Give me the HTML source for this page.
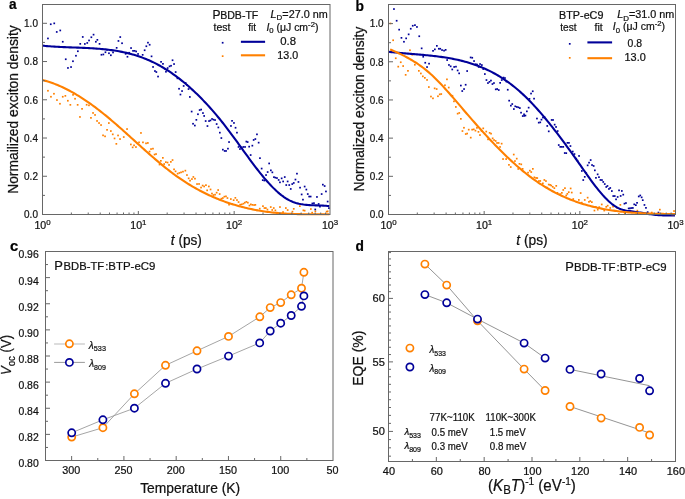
<!DOCTYPE html>
<html><head><meta charset="utf-8"><style>
html,body{margin:0;padding:0;background:#fff;}
svg{display:block;will-change:transform;}
text{font-family:"Liberation Sans", sans-serif;}
</style></head><body>
<svg width="685" height="499" viewBox="0 0 685 499" font-family='"Liberation Sans", sans-serif'><g fill="#ff8000"><rect x="47.1" y="89.9" width="1.7" height="1.7"/><rect x="50.1" y="95.9" width="1.7" height="1.7"/><rect x="53.1" y="92.9" width="1.7" height="1.7"/><rect x="56.1" y="99.2" width="1.7" height="1.7"/><rect x="59.1" y="102.9" width="1.7" height="1.7"/><rect x="61.9" y="95.9" width="1.7" height="1.7"/><rect x="64.5" y="95.0" width="1.7" height="1.7"/><rect x="67.0" y="99.9" width="1.7" height="1.7"/><rect x="69.5" y="104.0" width="1.7" height="1.7"/><rect x="72.2" y="94.0" width="1.7" height="1.7"/><rect x="74.2" y="97.9" width="1.7" height="1.7"/><rect x="76.8" y="104.0" width="1.7" height="1.7"/><rect x="79.1" y="116.1" width="1.7" height="1.7"/><rect x="81.2" y="108.0" width="1.7" height="1.7"/><rect x="85.8" y="103.9" width="1.7" height="1.7"/><rect x="88.1" y="104.5" width="1.7" height="1.7"/><rect x="90.1" y="117.0" width="1.7" height="1.7"/><rect x="92.2" y="112.1" width="1.7" height="1.7"/><rect x="94.2" y="114.1" width="1.7" height="1.7"/><rect x="96.2" y="120.1" width="1.7" height="1.7"/><rect x="98.2" y="122.2" width="1.7" height="1.7"/><rect x="100.2" y="124.2" width="1.7" height="1.7"/><rect x="102.2" y="134.5" width="1.7" height="1.7"/><rect x="104.2" y="135.5" width="1.7" height="1.7"/><rect x="106.2" y="129.0" width="1.7" height="1.7"/><rect x="108.0" y="122.2" width="1.7" height="1.7"/><rect x="110.0" y="130.2" width="1.7" height="1.7"/><rect x="111.9" y="133.5" width="1.7" height="1.7"/><rect x="113.7" y="137.6" width="1.7" height="1.7"/><rect x="115.5" y="143.0" width="1.7" height="1.7"/><rect x="117.2" y="134.6" width="1.7" height="1.7"/><rect x="119.2" y="138.2" width="1.7" height="1.7"/><rect x="122.9" y="136.2" width="1.7" height="1.7"/><rect x="126.2" y="128.2" width="1.7" height="1.7"/><rect x="130.0" y="143.6" width="1.7" height="1.7"/><rect x="131.8" y="146.5" width="1.7" height="1.7"/><rect x="133.2" y="144.5" width="1.7" height="1.7"/><rect x="135.1" y="146.2" width="1.7" height="1.7"/><rect x="138.2" y="141.5" width="1.7" height="1.7"/><rect x="140.1" y="132.1" width="1.7" height="1.7"/><rect x="142.1" y="141.5" width="1.7" height="1.7"/><rect x="145.2" y="142.5" width="1.7" height="1.7"/><rect x="147.0" y="142.1" width="1.7" height="1.7"/><rect x="150.2" y="148.2" width="1.7" height="1.7"/><rect x="152.1" y="147.8" width="1.7" height="1.7"/><rect x="148.7" y="150.7" width="1.7" height="1.7"/><rect x="153.7" y="153.7" width="1.7" height="1.7"/><rect x="155.2" y="153.2" width="1.7" height="1.7"/><rect x="158.7" y="163.7" width="1.7" height="1.7"/><rect x="160.0" y="160.0" width="1.7" height="1.7"/><rect x="162.0" y="157.0" width="1.7" height="1.7"/><rect x="163.3" y="163.2" width="1.7" height="1.7"/><rect x="165.0" y="161.3" width="1.7" height="1.7"/><rect x="166.7" y="161.7" width="1.7" height="1.7"/><rect x="168.2" y="164.1" width="1.7" height="1.7"/><rect x="170.0" y="161.0" width="1.7" height="1.7"/><rect x="171.7" y="159.2" width="1.7" height="1.7"/><rect x="173.2" y="168.5" width="1.7" height="1.7"/><rect x="174.7" y="170.5" width="1.7" height="1.7"/><rect x="176.8" y="172.8" width="1.7" height="1.7"/><rect x="178.5" y="172.1" width="1.7" height="1.7"/><rect x="180.2" y="171.5" width="1.7" height="1.7"/><rect x="182.1" y="170.8" width="1.7" height="1.7"/><rect x="184.5" y="169.8" width="1.7" height="1.7"/><rect x="186.1" y="174.2" width="1.7" height="1.7"/><rect x="187.8" y="177.5" width="1.7" height="1.7"/><rect x="189.2" y="179.8" width="1.7" height="1.7"/><rect x="191.1" y="178.2" width="1.7" height="1.7"/><rect x="192.5" y="176.1" width="1.7" height="1.7"/><rect x="194.1" y="177.8" width="1.7" height="1.7"/><rect x="196.2" y="183.2" width="1.7" height="1.7"/><rect x="198.2" y="183.1" width="1.7" height="1.7"/><rect x="200.2" y="186.7" width="1.7" height="1.7"/><rect x="201.8" y="184.7" width="1.7" height="1.7"/><rect x="203.3" y="185.6" width="1.7" height="1.7"/><rect x="205.1" y="184.3" width="1.7" height="1.7"/><rect x="206.3" y="189.5" width="1.7" height="1.7"/><rect x="208.0" y="185.6" width="1.7" height="1.7"/><rect x="209.7" y="188.6" width="1.7" height="1.7"/><rect x="211.1" y="192.7" width="1.7" height="1.7"/><rect x="212.6" y="194.2" width="1.7" height="1.7"/><rect x="214.2" y="193.8" width="1.7" height="1.7"/><rect x="215.8" y="191.8" width="1.7" height="1.7"/><rect x="217.3" y="189.2" width="1.7" height="1.7"/><rect x="218.8" y="193.2" width="1.7" height="1.7"/><rect x="220.5" y="197.8" width="1.7" height="1.7"/><rect x="222.0" y="197.2" width="1.7" height="1.7"/><rect x="223.5" y="195.8" width="1.7" height="1.7"/><rect x="225.1" y="195.5" width="1.7" height="1.7"/><rect x="226.6" y="197.2" width="1.7" height="1.7"/><rect x="228.2" y="203.8" width="1.7" height="1.7"/><rect x="230.0" y="198.2" width="1.7" height="1.7"/><rect x="231.5" y="203.2" width="1.7" height="1.7"/><rect x="232.8" y="199.3" width="1.7" height="1.7"/><rect x="234.5" y="197.0" width="1.7" height="1.7"/><rect x="236.1" y="199.2" width="1.7" height="1.7"/><rect x="237.7" y="201.2" width="1.7" height="1.7"/><rect x="239.3" y="203.8" width="1.7" height="1.7"/><rect x="241.0" y="203.5" width="1.7" height="1.7"/><rect x="242.6" y="202.8" width="1.7" height="1.7"/><rect x="244.0" y="201.8" width="1.7" height="1.7"/><rect x="245.5" y="201.0" width="1.7" height="1.7"/><rect x="247.0" y="201.8" width="1.7" height="1.7"/><rect x="248.6" y="204.7" width="1.7" height="1.7"/><rect x="250.0" y="203.5" width="1.7" height="1.7"/><rect x="251.5" y="204.0" width="1.7" height="1.7"/><rect x="253.2" y="204.2" width="1.7" height="1.7"/><rect x="254.5" y="204.0" width="1.7" height="1.7"/><rect x="256.1" y="209.5" width="1.7" height="1.7"/><rect x="258.9" y="207.8" width="1.7" height="1.7"/><rect x="262.1" y="205.3" width="1.7" height="1.7"/><rect x="263.6" y="207.2" width="1.7" height="1.7"/><rect x="265.0" y="207.2" width="1.7" height="1.7"/><rect x="266.6" y="208.7" width="1.7" height="1.7"/><rect x="268.2" y="211.2" width="1.7" height="1.7"/><rect x="269.9" y="206.2" width="1.7" height="1.7"/><rect x="271.4" y="209.1" width="1.7" height="1.7"/><rect x="272.9" y="207.2" width="1.7" height="1.7"/><rect x="274.5" y="209.5" width="1.7" height="1.7"/><rect x="279.1" y="206.2" width="1.7" height="1.7"/><rect x="282.2" y="211.2" width="1.7" height="1.7"/><rect x="285.0" y="207.2" width="1.7" height="1.7"/><rect x="286.8" y="209.2" width="1.7" height="1.7"/><rect x="291.6" y="210.8" width="1.7" height="1.7"/><rect x="292.9" y="208.0" width="1.7" height="1.7"/><rect x="299.0" y="205.3" width="1.7" height="1.7"/><rect x="302.5" y="209.5" width="1.7" height="1.7"/><rect x="303.8" y="209.8" width="1.7" height="1.7"/><rect x="310.0" y="208.2" width="1.7" height="1.7"/><rect x="314.5" y="210.5" width="1.7" height="1.7"/><rect x="311.3" y="211.8" width="1.7" height="1.7"/><rect x="325.8" y="210.8" width="1.7" height="1.7"/><rect x="326.8" y="210.5" width="1.7" height="1.7"/></g>
<g fill="#ff8000"><rect x="389.6" y="22.6" width="1.7" height="1.7"/><rect x="392.3" y="39.4" width="1.7" height="1.7"/><rect x="409.1" y="49.4" width="1.7" height="1.7"/><rect x="446.1" y="78.5" width="1.7" height="1.7"/><rect x="394.9" y="57.4" width="1.7" height="1.7"/><rect x="397.4" y="65.8" width="1.7" height="1.7"/><rect x="399.9" y="61.4" width="1.7" height="1.7"/><rect x="402.3" y="65.2" width="1.7" height="1.7"/><rect x="404.8" y="74.0" width="1.7" height="1.7"/><rect x="407.1" y="70.0" width="1.7" height="1.7"/><rect x="411.4" y="53.9" width="1.7" height="1.7"/><rect x="414.0" y="63.9" width="1.7" height="1.7"/><rect x="418.0" y="70.0" width="1.7" height="1.7"/><rect x="420.0" y="72.6" width="1.7" height="1.7"/><rect x="422.0" y="75.5" width="1.7" height="1.7"/><rect x="424.0" y="77.0" width="1.7" height="1.7"/><rect x="426.2" y="79.1" width="1.7" height="1.7"/><rect x="428.0" y="86.2" width="1.7" height="1.7"/><rect x="433.8" y="87.5" width="1.7" height="1.7"/><rect x="435.8" y="88.2" width="1.7" height="1.7"/><rect x="430.1" y="95.7" width="1.7" height="1.7"/><rect x="432.1" y="97.5" width="1.7" height="1.7"/><rect x="437.1" y="95.4" width="1.7" height="1.7"/><rect x="438.9" y="93.5" width="1.7" height="1.7"/><rect x="440.4" y="93.2" width="1.7" height="1.7"/><rect x="444.1" y="84.4" width="1.7" height="1.7"/><rect x="447.9" y="86.7" width="1.7" height="1.7"/><rect x="451.6" y="94.9" width="1.7" height="1.7"/><rect x="453.1" y="100.5" width="1.7" height="1.7"/><rect x="455.0" y="106.1" width="1.7" height="1.7"/><rect x="456.8" y="112.8" width="1.7" height="1.7"/><rect x="458.4" y="112.1" width="1.7" height="1.7"/><rect x="460.0" y="118.0" width="1.7" height="1.7"/><rect x="461.6" y="130.2" width="1.7" height="1.7"/><rect x="463.1" y="126.9" width="1.7" height="1.7"/><rect x="464.9" y="133.2" width="1.7" height="1.7"/><rect x="466.3" y="132.7" width="1.7" height="1.7"/><rect x="467.9" y="128.8" width="1.7" height="1.7"/><rect x="469.9" y="136.8" width="1.7" height="1.7"/><rect x="471.3" y="128.8" width="1.7" height="1.7"/><rect x="472.9" y="128.5" width="1.7" height="1.7"/><rect x="474.6" y="129.8" width="1.7" height="1.7"/><rect x="476.1" y="127.0" width="1.7" height="1.7"/><rect x="477.6" y="131.0" width="1.7" height="1.7"/><rect x="479.1" y="134.2" width="1.7" height="1.7"/><rect x="480.8" y="130.2" width="1.7" height="1.7"/><rect x="482.4" y="127.5" width="1.7" height="1.7"/><rect x="485.4" y="130.7" width="1.7" height="1.7"/><rect x="487.2" y="138.5" width="1.7" height="1.7"/><rect x="488.8" y="132.0" width="1.7" height="1.7"/><rect x="490.2" y="132.8" width="1.7" height="1.7"/><rect x="491.8" y="137.5" width="1.7" height="1.7"/><rect x="493.2" y="139.2" width="1.7" height="1.7"/><rect x="494.8" y="140.1" width="1.7" height="1.7"/><rect x="496.2" y="142.1" width="1.7" height="1.7"/><rect x="497.8" y="142.1" width="1.7" height="1.7"/><rect x="499.2" y="146.1" width="1.7" height="1.7"/><rect x="500.8" y="142.8" width="1.7" height="1.7"/><rect x="502.2" y="158.2" width="1.7" height="1.7"/><rect x="505.3" y="158.2" width="1.7" height="1.7"/><rect x="508.1" y="164.0" width="1.7" height="1.7"/><rect x="509.9" y="166.2" width="1.7" height="1.7"/><rect x="512.9" y="153.7" width="1.7" height="1.7"/><rect x="514.1" y="160.2" width="1.7" height="1.7"/><rect x="515.9" y="157.8" width="1.7" height="1.7"/><rect x="517.4" y="168.1" width="1.7" height="1.7"/><rect x="518.6" y="163.0" width="1.7" height="1.7"/><rect x="520.4" y="163.5" width="1.7" height="1.7"/><rect x="521.8" y="168.0" width="1.7" height="1.7"/><rect x="527.2" y="171.8" width="1.7" height="1.7"/><rect x="529.0" y="169.8" width="1.7" height="1.7"/><rect x="530.4" y="171.2" width="1.7" height="1.7"/><rect x="532.0" y="168.0" width="1.7" height="1.7"/><rect x="533.5" y="176.5" width="1.7" height="1.7"/><rect x="535.2" y="177.1" width="1.7" height="1.7"/><rect x="536.4" y="177.2" width="1.7" height="1.7"/><rect x="538.0" y="180.2" width="1.7" height="1.7"/><rect x="539.4" y="180.1" width="1.7" height="1.7"/><rect x="542.0" y="182.5" width="1.7" height="1.7"/><rect x="543.5" y="179.1" width="1.7" height="1.7"/><rect x="545.1" y="180.2" width="1.7" height="1.7"/><rect x="546.4" y="186.8" width="1.7" height="1.7"/><rect x="547.9" y="183.7" width="1.7" height="1.7"/><rect x="549.2" y="184.0" width="1.7" height="1.7"/><rect x="550.4" y="184.7" width="1.7" height="1.7"/><rect x="551.9" y="186.0" width="1.7" height="1.7"/><rect x="553.5" y="187.3" width="1.7" height="1.7"/><rect x="555.4" y="185.0" width="1.7" height="1.7"/><rect x="556.6" y="192.0" width="1.7" height="1.7"/><rect x="559.4" y="193.3" width="1.7" height="1.7"/><rect x="561.0" y="192.0" width="1.7" height="1.7"/><rect x="562.4" y="189.1" width="1.7" height="1.7"/><rect x="564.1" y="187.3" width="1.7" height="1.7"/><rect x="565.4" y="194.6" width="1.7" height="1.7"/><rect x="566.5" y="193.0" width="1.7" height="1.7"/><rect x="567.9" y="191.3" width="1.7" height="1.7"/><rect x="569.8" y="187.6" width="1.7" height="1.7"/><rect x="570.9" y="191.7" width="1.7" height="1.7"/><rect x="572.4" y="198.2" width="1.7" height="1.7"/><rect x="578.0" y="199.1" width="1.7" height="1.7"/><rect x="579.8" y="192.2" width="1.7" height="1.7"/><rect x="580.9" y="201.8" width="1.7" height="1.7"/><rect x="583.9" y="199.1" width="1.7" height="1.7"/><rect x="586.8" y="196.8" width="1.7" height="1.7"/><rect x="588.1" y="201.0" width="1.7" height="1.7"/><rect x="589.4" y="200.2" width="1.7" height="1.7"/><rect x="591.0" y="201.3" width="1.7" height="1.7"/><rect x="593.6" y="209.7" width="1.7" height="1.7"/><rect x="594.9" y="206.0" width="1.7" height="1.7"/><rect x="596.9" y="208.8" width="1.7" height="1.7"/><rect x="598.4" y="206.3" width="1.7" height="1.7"/><rect x="600.9" y="203.6" width="1.7" height="1.7"/><rect x="603.4" y="209.7" width="1.7" height="1.7"/><rect x="605.4" y="206.0" width="1.7" height="1.7"/><rect x="606.8" y="204.8" width="1.7" height="1.7"/><rect x="609.4" y="207.1" width="1.7" height="1.7"/><rect x="612.2" y="205.8" width="1.7" height="1.7"/><rect x="616.2" y="207.2" width="1.7" height="1.7"/><rect x="619.5" y="204.0" width="1.7" height="1.7"/><rect x="623.9" y="212.6" width="1.7" height="1.7"/><rect x="618.0" y="213.2" width="1.7" height="1.7"/><rect x="636.5" y="209.8" width="1.7" height="1.7"/><rect x="659.0" y="208.8" width="1.7" height="1.7"/><rect x="673.2" y="210.2" width="1.7" height="1.7"/><rect x="650.9" y="211.7" width="1.7" height="1.7"/></g>
<g fill="#000099"><rect x="47.1" y="37.6" width="1.7" height="1.7"/><rect x="49.9" y="23.4" width="1.7" height="1.7"/><rect x="53.4" y="22.5" width="1.7" height="1.7"/><rect x="55.9" y="31.1" width="1.7" height="1.7"/><rect x="59.4" y="29.6" width="1.7" height="1.7"/><rect x="61.9" y="40.9" width="1.7" height="1.7"/><rect x="64.9" y="58.4" width="1.7" height="1.7"/><rect x="67.1" y="67.1" width="1.7" height="1.7"/><rect x="70.2" y="66.2" width="1.7" height="1.7"/><rect x="72.1" y="60.4" width="1.7" height="1.7"/><rect x="75.1" y="54.9" width="1.7" height="1.7"/><rect x="77.0" y="50.4" width="1.7" height="1.7"/><rect x="79.4" y="43.0" width="1.7" height="1.7"/><rect x="81.9" y="36.1" width="1.7" height="1.7"/><rect x="84.0" y="43.1" width="1.7" height="1.7"/><rect x="86.4" y="42.1" width="1.7" height="1.7"/><rect x="88.2" y="39.6" width="1.7" height="1.7"/><rect x="90.5" y="36.4" width="1.7" height="1.7"/><rect x="92.7" y="33.8" width="1.7" height="1.7"/><rect x="95.0" y="40.9" width="1.7" height="1.7"/><rect x="96.5" y="39.0" width="1.7" height="1.7"/><rect x="98.7" y="43.0" width="1.7" height="1.7"/><rect x="100.6" y="53.9" width="1.7" height="1.7"/><rect x="102.5" y="53.6" width="1.7" height="1.7"/><rect x="104.6" y="51.4" width="1.7" height="1.7"/><rect x="106.2" y="49.0" width="1.7" height="1.7"/><rect x="108.1" y="52.4" width="1.7" height="1.7"/><rect x="110.0" y="54.4" width="1.7" height="1.7"/><rect x="112.2" y="51.6" width="1.7" height="1.7"/><rect x="115.8" y="47.0" width="1.7" height="1.7"/><rect x="117.6" y="40.1" width="1.7" height="1.7"/><rect x="119.4" y="36.2" width="1.7" height="1.7"/><rect x="121.2" y="42.4" width="1.7" height="1.7"/><rect x="124.8" y="53.0" width="1.7" height="1.7"/><rect x="126.6" y="55.9" width="1.7" height="1.7"/><rect x="128.3" y="51.9" width="1.7" height="1.7"/><rect x="130.2" y="47.2" width="1.7" height="1.7"/><rect x="132.2" y="50.0" width="1.7" height="1.7"/><rect x="133.8" y="50.0" width="1.7" height="1.7"/><rect x="135.3" y="50.6" width="1.7" height="1.7"/><rect x="137.2" y="53.1" width="1.7" height="1.7"/><rect x="141.8" y="54.0" width="1.7" height="1.7"/><rect x="143.8" y="49.4" width="1.7" height="1.7"/><rect x="145.5" y="45.4" width="1.7" height="1.7"/><rect x="147.1" y="41.8" width="1.7" height="1.7"/><rect x="148.8" y="43.9" width="1.7" height="1.7"/><rect x="150.7" y="55.5" width="1.7" height="1.7"/><rect x="152.2" y="66.1" width="1.7" height="1.7"/><rect x="154.1" y="70.2" width="1.7" height="1.7"/><rect x="155.5" y="71.2" width="1.7" height="1.7"/><rect x="157.2" y="75.7" width="1.7" height="1.7"/><rect x="160.2" y="61.0" width="1.7" height="1.7"/><rect x="162.1" y="63.0" width="1.7" height="1.7"/><rect x="163.8" y="67.9" width="1.7" height="1.7"/><rect x="165.1" y="70.9" width="1.7" height="1.7"/><rect x="166.8" y="67.2" width="1.7" height="1.7"/><rect x="168.7" y="65.5" width="1.7" height="1.7"/><rect x="170.2" y="64.9" width="1.7" height="1.7"/><rect x="171.7" y="59.4" width="1.7" height="1.7"/><rect x="173.2" y="63.2" width="1.7" height="1.7"/><rect x="174.8" y="71.2" width="1.7" height="1.7"/><rect x="176.6" y="77.5" width="1.7" height="1.7"/><rect x="178.2" y="87.9" width="1.7" height="1.7"/><rect x="179.6" y="93.7" width="1.7" height="1.7"/><rect x="181.2" y="90.2" width="1.7" height="1.7"/><rect x="182.8" y="85.1" width="1.7" height="1.7"/><rect x="184.8" y="82.1" width="1.7" height="1.7"/><rect x="186.2" y="84.2" width="1.7" height="1.7"/><rect x="187.7" y="88.2" width="1.7" height="1.7"/><rect x="189.0" y="96.1" width="1.7" height="1.7"/><rect x="190.8" y="110.7" width="1.7" height="1.7"/><rect x="197.1" y="113.4" width="1.7" height="1.7"/><rect x="198.8" y="109.2" width="1.7" height="1.7"/><rect x="200.3" y="108.7" width="1.7" height="1.7"/><rect x="202.1" y="112.2" width="1.7" height="1.7"/><rect x="192.2" y="122.9" width="1.7" height="1.7"/><rect x="194.0" y="124.7" width="1.7" height="1.7"/><rect x="195.5" y="119.0" width="1.7" height="1.7"/><rect x="203.3" y="115.1" width="1.7" height="1.7"/><rect x="204.8" y="120.2" width="1.7" height="1.7"/><rect x="206.6" y="125.2" width="1.7" height="1.7"/><rect x="208.2" y="120.2" width="1.7" height="1.7"/><rect x="209.6" y="119.6" width="1.7" height="1.7"/><rect x="211.2" y="118.1" width="1.7" height="1.7"/><rect x="212.7" y="118.8" width="1.7" height="1.7"/><rect x="214.2" y="119.2" width="1.7" height="1.7"/><rect x="215.8" y="123.2" width="1.7" height="1.7"/><rect x="217.5" y="126.6" width="1.7" height="1.7"/><rect x="219.0" y="131.8" width="1.7" height="1.7"/><rect x="220.5" y="137.2" width="1.7" height="1.7"/><rect x="222.0" y="148.8" width="1.7" height="1.7"/><rect x="223.8" y="150.1" width="1.7" height="1.7"/><rect x="225.2" y="150.1" width="1.7" height="1.7"/><rect x="227.1" y="147.8" width="1.7" height="1.7"/><rect x="228.2" y="141.2" width="1.7" height="1.7"/><rect x="230.1" y="125.1" width="1.7" height="1.7"/><rect x="231.2" y="120.0" width="1.7" height="1.7"/><rect x="233.1" y="122.1" width="1.7" height="1.7"/><rect x="234.7" y="126.9" width="1.7" height="1.7"/><rect x="236.1" y="131.8" width="1.7" height="1.7"/><rect x="237.7" y="146.1" width="1.7" height="1.7"/><rect x="239.1" y="148.2" width="1.7" height="1.7"/><rect x="240.7" y="146.7" width="1.7" height="1.7"/><rect x="242.5" y="146.1" width="1.7" height="1.7"/><rect x="244.2" y="146.1" width="1.7" height="1.7"/><rect x="245.5" y="140.7" width="1.7" height="1.7"/><rect x="246.8" y="141.2" width="1.7" height="1.7"/><rect x="248.3" y="145.8" width="1.7" height="1.7"/><rect x="249.8" y="154.2" width="1.7" height="1.7"/><rect x="251.5" y="144.8" width="1.7" height="1.7"/><rect x="252.8" y="139.1" width="1.7" height="1.7"/><rect x="254.5" y="138.2" width="1.7" height="1.7"/><rect x="256.1" y="133.5" width="1.7" height="1.7"/><rect x="257.8" y="141.8" width="1.7" height="1.7"/><rect x="259.1" y="157.3" width="1.7" height="1.7"/><rect x="260.8" y="167.7" width="1.7" height="1.7"/><rect x="261.9" y="179.3" width="1.7" height="1.7"/><rect x="263.5" y="179.7" width="1.7" height="1.7"/><rect x="265.2" y="174.2" width="1.7" height="1.7"/><rect x="266.8" y="171.2" width="1.7" height="1.7"/><rect x="268.3" y="162.6" width="1.7" height="1.7"/><rect x="270.0" y="169.5" width="1.7" height="1.7"/><rect x="271.5" y="171.5" width="1.7" height="1.7"/><rect x="273.1" y="176.3" width="1.7" height="1.7"/><rect x="274.5" y="176.8" width="1.7" height="1.7"/><rect x="276.1" y="177.2" width="1.7" height="1.7"/><rect x="277.8" y="179.1" width="1.7" height="1.7"/><rect x="279.1" y="181.5" width="1.7" height="1.7"/><rect x="280.8" y="177.5" width="1.7" height="1.7"/><rect x="282.3" y="180.6" width="1.7" height="1.7"/><rect x="283.9" y="176.2" width="1.7" height="1.7"/><rect x="285.4" y="184.2" width="1.7" height="1.7"/><rect x="286.8" y="180.6" width="1.7" height="1.7"/><rect x="288.4" y="184.2" width="1.7" height="1.7"/><rect x="289.9" y="188.1" width="1.7" height="1.7"/><rect x="291.4" y="183.2" width="1.7" height="1.7"/><rect x="292.9" y="182.1" width="1.7" height="1.7"/><rect x="294.6" y="178.7" width="1.7" height="1.7"/><rect x="296.1" y="172.8" width="1.7" height="1.7"/><rect x="297.6" y="181.1" width="1.7" height="1.7"/><rect x="299.2" y="186.8" width="1.7" height="1.7"/><rect x="303.8" y="185.7" width="1.7" height="1.7"/><rect x="305.5" y="188.7" width="1.7" height="1.7"/><rect x="322.0" y="183.8" width="1.7" height="1.7"/><rect x="323.8" y="185.2" width="1.7" height="1.7"/><rect x="300.8" y="193.6" width="1.7" height="1.7"/><rect x="302.1" y="198.8" width="1.7" height="1.7"/><rect x="306.9" y="193.2" width="1.7" height="1.7"/><rect x="308.3" y="195.7" width="1.7" height="1.7"/><rect x="309.8" y="195.7" width="1.7" height="1.7"/><rect x="311.5" y="202.6" width="1.7" height="1.7"/><rect x="313.1" y="202.3" width="1.7" height="1.7"/><rect x="314.4" y="208.6" width="1.7" height="1.7"/><rect x="316.1" y="196.1" width="1.7" height="1.7"/><rect x="317.8" y="203.1" width="1.7" height="1.7"/><rect x="319.1" y="205.8" width="1.7" height="1.7"/><rect x="320.8" y="193.2" width="1.7" height="1.7"/><rect x="325.1" y="190.6" width="1.7" height="1.7"/><rect x="326.8" y="200.7" width="1.7" height="1.7"/><rect x="328.1" y="207.3" width="1.7" height="1.7"/></g>
<g fill="#000099"><rect x="393.1" y="8.2" width="1.7" height="1.7"/><rect x="395.8" y="19.9" width="1.7" height="1.7"/><rect x="398.3" y="28.8" width="1.7" height="1.7"/><rect x="400.6" y="37.0" width="1.7" height="1.7"/><rect x="403.1" y="40.9" width="1.7" height="1.7"/><rect x="405.3" y="37.5" width="1.7" height="1.7"/><rect x="407.8" y="33.5" width="1.7" height="1.7"/><rect x="409.9" y="27.9" width="1.7" height="1.7"/><rect x="411.9" y="24.9" width="1.7" height="1.7"/><rect x="414.1" y="24.3" width="1.7" height="1.7"/><rect x="416.1" y="26.1" width="1.7" height="1.7"/><rect x="418.4" y="35.4" width="1.7" height="1.7"/><rect x="420.8" y="47.5" width="1.7" height="1.7"/><rect x="432.2" y="50.0" width="1.7" height="1.7"/><rect x="434.0" y="48.5" width="1.7" height="1.7"/><rect x="436.0" y="45.0" width="1.7" height="1.7"/><rect x="438.0" y="47.9" width="1.7" height="1.7"/><rect x="439.4" y="47.9" width="1.7" height="1.7"/><rect x="441.2" y="49.2" width="1.7" height="1.7"/><rect x="443.2" y="49.8" width="1.7" height="1.7"/><rect x="444.8" y="49.0" width="1.7" height="1.7"/><rect x="446.3" y="59.2" width="1.7" height="1.7"/><rect x="448.1" y="64.1" width="1.7" height="1.7"/><rect x="449.8" y="65.5" width="1.7" height="1.7"/><rect x="451.4" y="68.6" width="1.7" height="1.7"/><rect x="453.3" y="66.1" width="1.7" height="1.7"/><rect x="455.1" y="65.8" width="1.7" height="1.7"/><rect x="456.8" y="69.6" width="1.7" height="1.7"/><rect x="458.3" y="72.5" width="1.7" height="1.7"/><rect x="466.3" y="70.2" width="1.7" height="1.7"/><rect x="469.8" y="56.6" width="1.7" height="1.7"/><rect x="471.4" y="56.9" width="1.7" height="1.7"/><rect x="473.2" y="60.2" width="1.7" height="1.7"/><rect x="474.8" y="63.4" width="1.7" height="1.7"/><rect x="476.2" y="63.7" width="1.7" height="1.7"/><rect x="477.8" y="66.1" width="1.7" height="1.7"/><rect x="479.2" y="63.2" width="1.7" height="1.7"/><rect x="481.0" y="64.2" width="1.7" height="1.7"/><rect x="482.4" y="68.2" width="1.7" height="1.7"/><rect x="484.0" y="73.2" width="1.7" height="1.7"/><rect x="422.4" y="55.9" width="1.7" height="1.7"/><rect x="424.4" y="61.9" width="1.7" height="1.7"/><rect x="428.2" y="62.8" width="1.7" height="1.7"/><rect x="426.2" y="66.2" width="1.7" height="1.7"/><rect x="460.0" y="84.7" width="1.7" height="1.7"/><rect x="464.8" y="83.9" width="1.7" height="1.7"/><rect x="463.2" y="88.2" width="1.7" height="1.7"/><rect x="461.4" y="90.2" width="1.7" height="1.7"/><rect x="485.6" y="79.2" width="1.7" height="1.7"/><rect x="487.1" y="82.2" width="1.7" height="1.7"/><rect x="488.6" y="81.0" width="1.7" height="1.7"/><rect x="490.1" y="79.7" width="1.7" height="1.7"/><rect x="491.6" y="83.2" width="1.7" height="1.7"/><rect x="493.1" y="82.2" width="1.7" height="1.7"/><rect x="494.9" y="88.5" width="1.7" height="1.7"/><rect x="496.3" y="88.2" width="1.7" height="1.7"/><rect x="497.9" y="89.2" width="1.7" height="1.7"/><rect x="499.3" y="82.0" width="1.7" height="1.7"/><rect x="500.9" y="79.2" width="1.7" height="1.7"/><rect x="502.6" y="76.7" width="1.7" height="1.7"/><rect x="504.1" y="77.2" width="1.7" height="1.7"/><rect x="505.6" y="80.7" width="1.7" height="1.7"/><rect x="506.9" y="88.9" width="1.7" height="1.7"/><rect x="508.3" y="99.8" width="1.7" height="1.7"/><rect x="510.0" y="104.8" width="1.7" height="1.7"/><rect x="511.4" y="103.2" width="1.7" height="1.7"/><rect x="513.0" y="108.2" width="1.7" height="1.7"/><rect x="514.4" y="105.5" width="1.7" height="1.7"/><rect x="516.0" y="106.1" width="1.7" height="1.7"/><rect x="517.5" y="106.5" width="1.7" height="1.7"/><rect x="519.0" y="107.2" width="1.7" height="1.7"/><rect x="520.2" y="111.8" width="1.7" height="1.7"/><rect x="523.2" y="113.5" width="1.7" height="1.7"/><rect x="526.0" y="110.5" width="1.7" height="1.7"/><rect x="527.8" y="106.8" width="1.7" height="1.7"/><rect x="530.2" y="92.7" width="1.7" height="1.7"/><rect x="531.9" y="90.4" width="1.7" height="1.7"/><rect x="533.2" y="97.8" width="1.7" height="1.7"/><rect x="521.9" y="115.2" width="1.7" height="1.7"/><rect x="523.4" y="115.0" width="1.7" height="1.7"/><rect x="524.6" y="114.7" width="1.7" height="1.7"/><rect x="528.6" y="98.0" width="1.7" height="1.7"/><rect x="536.1" y="117.7" width="1.7" height="1.7"/><rect x="537.9" y="121.8" width="1.7" height="1.7"/><rect x="539.4" y="121.5" width="1.7" height="1.7"/><rect x="540.6" y="118.8" width="1.7" height="1.7"/><rect x="542.1" y="116.7" width="1.7" height="1.7"/><rect x="543.6" y="116.2" width="1.7" height="1.7"/><rect x="546.4" y="125.1" width="1.7" height="1.7"/><rect x="547.9" y="130.5" width="1.7" height="1.7"/><rect x="550.8" y="119.1" width="1.7" height="1.7"/><rect x="552.2" y="119.1" width="1.7" height="1.7"/><rect x="553.8" y="123.8" width="1.7" height="1.7"/><rect x="555.2" y="126.1" width="1.7" height="1.7"/><rect x="556.8" y="130.2" width="1.7" height="1.7"/><rect x="557.9" y="144.2" width="1.7" height="1.7"/><rect x="559.4" y="146.0" width="1.7" height="1.7"/><rect x="560.9" y="146.0" width="1.7" height="1.7"/><rect x="562.4" y="146.0" width="1.7" height="1.7"/><rect x="563.9" y="152.2" width="1.7" height="1.7"/><rect x="565.4" y="152.3" width="1.7" height="1.7"/><rect x="566.6" y="142.0" width="1.7" height="1.7"/><rect x="568.1" y="142.0" width="1.7" height="1.7"/><rect x="569.6" y="145.2" width="1.7" height="1.7"/><rect x="571.9" y="150.7" width="1.7" height="1.7"/><rect x="573.6" y="153.2" width="1.7" height="1.7"/><rect x="575.4" y="157.8" width="1.7" height="1.7"/><rect x="576.6" y="159.8" width="1.7" height="1.7"/><rect x="578.2" y="155.1" width="1.7" height="1.7"/><rect x="581.0" y="170.1" width="1.7" height="1.7"/><rect x="586.8" y="164.5" width="1.7" height="1.7"/><rect x="588.2" y="161.8" width="1.7" height="1.7"/><rect x="589.8" y="159.2" width="1.7" height="1.7"/><rect x="591.2" y="164.2" width="1.7" height="1.7"/><rect x="592.8" y="165.1" width="1.7" height="1.7"/><rect x="594.0" y="169.5" width="1.7" height="1.7"/><rect x="596.8" y="173.5" width="1.7" height="1.7"/><rect x="582.4" y="179.2" width="1.7" height="1.7"/><rect x="583.9" y="176.0" width="1.7" height="1.7"/><rect x="585.4" y="172.3" width="1.7" height="1.7"/><rect x="595.1" y="177.0" width="1.7" height="1.7"/><rect x="598.1" y="176.3" width="1.7" height="1.7"/><rect x="599.6" y="179.1" width="1.7" height="1.7"/><rect x="601.1" y="179.2" width="1.7" height="1.7"/><rect x="602.4" y="181.1" width="1.7" height="1.7"/><rect x="603.9" y="183.2" width="1.7" height="1.7"/><rect x="605.4" y="186.1" width="1.7" height="1.7"/><rect x="606.6" y="185.1" width="1.7" height="1.7"/><rect x="608.1" y="188.1" width="1.7" height="1.7"/><rect x="609.4" y="187.1" width="1.7" height="1.7"/><rect x="611.0" y="190.2" width="1.7" height="1.7"/><rect x="612.4" y="195.2" width="1.7" height="1.7"/><rect x="613.9" y="195.2" width="1.7" height="1.7"/><rect x="615.2" y="198.5" width="1.7" height="1.7"/><rect x="616.8" y="196.1" width="1.7" height="1.7"/><rect x="618.2" y="189.5" width="1.7" height="1.7"/><rect x="619.8" y="195.1" width="1.7" height="1.7"/><rect x="621.0" y="190.1" width="1.7" height="1.7"/><rect x="622.4" y="193.8" width="1.7" height="1.7"/><rect x="623.6" y="202.8" width="1.7" height="1.7"/><rect x="625.1" y="202.2" width="1.7" height="1.7"/><rect x="627.8" y="207.6" width="1.7" height="1.7"/><rect x="629.1" y="207.5" width="1.7" height="1.7"/><rect x="630.5" y="207.2" width="1.7" height="1.7"/><rect x="632.0" y="207.1" width="1.7" height="1.7"/><rect x="633.4" y="203.5" width="1.7" height="1.7"/><rect x="635.0" y="204.3" width="1.7" height="1.7"/><rect x="636.2" y="202.0" width="1.7" height="1.7"/><rect x="637.9" y="195.6" width="1.7" height="1.7"/><rect x="639.4" y="194.6" width="1.7" height="1.7"/><rect x="640.8" y="196.5" width="1.7" height="1.7"/><rect x="641.9" y="199.3" width="1.7" height="1.7"/><rect x="643.6" y="204.1" width="1.7" height="1.7"/><rect x="645.1" y="207.0" width="1.7" height="1.7"/><rect x="646.8" y="211.3" width="1.7" height="1.7"/><rect x="657.6" y="211.7" width="1.7" height="1.7"/></g>
<path d="M42.50,45.65 L44.00,45.80 L45.50,45.95 L47.00,46.08 L48.50,46.21 L50.00,46.32 L51.50,46.43 L53.00,46.54 L54.50,46.63 L56.00,46.72 L57.50,46.81 L59.00,46.89 L60.50,46.96 L62.00,47.03 L63.50,47.10 L65.00,47.16 L66.50,47.22 L68.00,47.28 L69.50,47.34 L71.00,47.39 L72.50,47.45 L74.00,47.50 L75.50,47.55 L77.00,47.61 L78.50,47.66 L80.00,47.72 L81.50,47.78 L83.00,47.84 L84.50,47.91 L86.00,47.97 L87.50,48.05 L89.00,48.12 L90.50,48.20 L92.00,48.29 L93.50,48.38 L95.00,48.48 L96.50,48.59 L98.00,48.70 L99.50,48.82 L101.00,48.95 L102.50,49.09 L104.00,49.24 L105.50,49.39 L107.00,49.56 L108.50,49.74 L110.00,49.93 L111.50,50.13 L113.00,50.34 L114.50,50.56 L116.00,50.80 L117.50,51.05 L119.00,51.32 L120.50,51.60 L122.00,51.90 L123.50,52.21 L125.00,52.53 L126.50,52.88 L128.00,53.24 L129.50,53.62 L131.00,54.01 L132.50,54.42 L134.00,54.86 L135.50,55.31 L137.00,55.78 L138.50,56.27 L140.00,56.79 L141.50,57.32 L143.00,57.88 L144.50,58.45 L146.00,59.05 L147.50,59.68 L149.00,60.33 L150.50,61.00 L152.00,61.69 L153.50,62.42 L155.00,63.16 L156.50,63.93 L158.00,64.73 L159.50,65.54 L161.00,66.39 L162.50,67.26 L164.00,68.15 L165.50,69.07 L167.00,70.01 L168.50,70.98 L170.00,71.97 L171.50,72.99 L173.00,74.03 L174.50,75.10 L176.00,76.19 L177.50,77.31 L179.00,78.45 L180.50,79.62 L182.00,80.81 L183.50,82.02 L185.00,83.27 L186.50,84.53 L188.00,85.83 L189.50,87.14 L191.00,88.48 L192.50,89.85 L194.00,91.24 L195.50,92.66 L197.00,94.11 L198.50,95.57 L200.00,97.07 L201.50,98.59 L203.00,100.13 L204.50,101.70 L206.00,103.29 L207.50,104.91 L209.00,106.56 L210.50,108.23 L212.00,109.93 L213.50,111.65 L215.00,113.39 L216.50,115.17 L218.00,116.97 L219.50,118.79 L221.00,120.64 L222.50,122.51 L224.00,124.41 L225.50,126.34 L227.00,128.29 L228.50,130.27 L230.00,132.26 L231.50,134.28 L233.00,136.31 L234.50,138.36 L236.00,140.42 L237.50,142.48 L239.00,144.56 L240.50,146.63 L242.00,148.71 L243.50,150.79 L245.00,152.86 L246.50,154.93 L248.00,156.99 L249.50,159.03 L251.00,161.06 L252.50,163.08 L254.00,165.08 L255.50,167.05 L257.00,169.00 L258.50,170.92 L260.00,172.82 L261.50,174.68 L263.00,176.51 L264.50,178.30 L266.00,180.05 L267.50,181.76 L269.00,183.42 L270.50,185.04 L272.00,186.61 L273.50,188.12 L275.00,189.58 L276.50,190.99 L278.00,192.33 L279.50,193.61 L281.00,194.83 L282.50,195.97 L284.00,197.05 L285.50,198.06 L287.00,198.99 L288.50,199.84 L290.00,200.61 L291.50,201.30 L293.00,201.92 L294.50,202.47 L296.00,202.96 L297.50,203.38 L299.00,203.75 L300.50,204.07 L302.00,204.33 L303.50,204.56 L305.00,204.75 L306.50,204.90 L308.00,205.02 L309.50,205.12 L311.00,205.20 L312.50,205.26 L314.00,205.31 L315.50,205.35 L317.00,205.39 L318.50,205.43 L320.00,205.48 L321.50,205.54 L323.00,205.61 L324.50,205.71 L326.00,205.82 L327.50,205.97 L329.00,206.15 L329.40,206.20" fill="none" stroke="#000099" stroke-width="2.1" stroke-linejoin="round"/>
<path d="M42.60,80.07 L44.10,80.46 L45.60,80.87 L47.10,81.31 L48.60,81.77 L50.10,82.26 L51.60,82.78 L53.10,83.32 L54.60,83.88 L56.10,84.47 L57.60,85.08 L59.10,85.71 L60.60,86.37 L62.10,87.05 L63.60,87.75 L65.10,88.48 L66.60,89.22 L68.10,89.99 L69.60,90.78 L71.10,91.59 L72.60,92.43 L74.10,93.28 L75.60,94.15 L77.10,95.04 L78.60,95.95 L80.10,96.89 L81.60,97.84 L83.10,98.81 L84.60,99.80 L86.10,100.80 L87.60,101.83 L89.10,102.87 L90.60,103.93 L92.10,105.01 L93.60,106.10 L95.10,107.21 L96.60,108.34 L98.10,109.48 L99.60,110.64 L101.10,111.81 L102.60,113.00 L104.10,114.20 L105.60,115.42 L107.10,116.66 L108.60,117.90 L110.10,119.16 L111.60,120.43 L113.10,121.71 L114.60,123.00 L116.10,124.30 L117.60,125.61 L119.10,126.93 L120.60,128.25 L122.10,129.58 L123.60,130.92 L125.10,132.26 L126.60,133.61 L128.10,134.96 L129.60,136.32 L131.10,137.67 L132.60,139.03 L134.10,140.39 L135.60,141.75 L137.10,143.10 L138.60,144.46 L140.10,145.81 L141.60,147.17 L143.10,148.51 L144.60,149.86 L146.10,151.20 L147.60,152.53 L149.10,153.86 L150.60,155.17 L152.10,156.49 L153.60,157.79 L155.10,159.08 L156.60,160.37 L158.10,161.64 L159.60,162.90 L161.10,164.15 L162.60,165.38 L164.10,166.61 L165.60,167.81 L167.10,169.01 L168.60,170.18 L170.10,171.34 L171.60,172.49 L173.10,173.61 L174.60,174.72 L176.10,175.81 L177.60,176.87 L179.10,177.92 L180.60,178.95 L182.10,179.97 L183.60,180.96 L185.10,181.93 L186.60,182.89 L188.10,183.83 L189.60,184.75 L191.10,185.66 L192.60,186.54 L194.10,187.41 L195.60,188.26 L197.10,189.10 L198.60,189.92 L200.10,190.72 L201.60,191.50 L203.10,192.27 L204.60,193.02 L206.10,193.76 L207.60,194.48 L209.10,195.18 L210.60,195.87 L212.10,196.54 L213.60,197.20 L215.10,197.84 L216.60,198.47 L218.10,199.08 L219.60,199.68 L221.10,200.26 L222.60,200.83 L224.10,201.38 L225.60,201.92 L227.10,202.45 L228.60,202.96 L230.10,203.46 L231.60,203.94 L233.10,204.41 L234.60,204.87 L236.10,205.32 L237.60,205.75 L239.10,206.17 L240.60,206.57 L242.10,206.97 L243.60,207.35 L245.10,207.72 L246.60,208.07 L248.10,208.42 L249.60,208.75 L251.10,209.07 L252.60,209.38 L254.10,209.68 L255.60,209.97 L257.10,210.25 L258.60,210.51 L260.10,210.77 L261.60,211.01 L263.10,211.25 L264.60,211.47 L266.10,211.69 L267.60,211.89 L269.10,212.08 L270.60,212.27 L272.10,212.44 L273.60,212.61 L275.10,212.77 L276.60,212.91 L278.10,213.05 L279.60,213.18 L281.10,213.30 L282.60,213.41 L284.10,213.52 L285.60,213.61 L287.10,213.70 L288.60,213.78 L290.10,213.86 L291.60,213.92 L293.10,213.98 L294.60,214.03 L296.10,214.07 L297.60,214.11 L299.10,214.14 L300.60,214.16 L302.10,214.18 L303.60,214.19 L305.10,214.19 L306.60,214.19 L308.10,214.19 L309.60,214.19 L311.10,214.19 L312.60,214.19 L314.10,214.19 L315.60,214.19 L317.10,214.19 L318.60,214.19 L320.10,214.19 L321.60,214.19 L323.10,214.19 L324.60,214.19 L326.10,214.19 L327.60,214.19 L329.10,214.19 L329.40,214.19" fill="none" stroke="#ff8000" stroke-width="2.1" stroke-linejoin="round"/>
<path d="M388.50,51.76 L390.00,51.93 L391.50,52.11 L393.00,52.27 L394.50,52.43 L396.00,52.58 L397.50,52.73 L399.00,52.87 L400.50,53.01 L402.00,53.15 L403.50,53.28 L405.00,53.41 L406.50,53.54 L408.00,53.66 L409.50,53.78 L411.00,53.91 L412.50,54.03 L414.00,54.15 L415.50,54.27 L417.00,54.40 L418.50,54.52 L420.00,54.65 L421.50,54.78 L423.00,54.91 L424.50,55.04 L426.00,55.18 L427.50,55.32 L429.00,55.47 L430.50,55.63 L432.00,55.78 L433.50,55.95 L435.00,56.12 L436.50,56.30 L438.00,56.48 L439.50,56.68 L441.00,56.88 L442.50,57.09 L444.00,57.31 L445.50,57.54 L447.00,57.78 L448.50,58.04 L450.00,58.30 L451.50,58.57 L453.00,58.86 L454.50,59.16 L456.00,59.47 L457.50,59.80 L459.00,60.14 L460.50,60.50 L462.00,60.87 L463.50,61.25 L465.00,61.66 L466.50,62.07 L468.00,62.51 L469.50,62.96 L471.00,63.43 L472.50,63.92 L474.00,64.43 L475.50,64.96 L477.00,65.51 L478.50,66.08 L480.00,66.66 L481.50,67.27 L483.00,67.90 L484.50,68.56 L486.00,69.23 L487.50,69.93 L489.00,70.66 L490.50,71.40 L492.00,72.17 L493.50,72.97 L495.00,73.79 L496.50,74.64 L498.00,75.51 L499.50,76.42 L501.00,77.34 L502.50,78.30 L504.00,79.28 L505.50,80.30 L507.00,81.34 L508.50,82.41 L510.00,83.52 L511.50,84.65 L513.00,85.81 L514.50,87.01 L516.00,88.24 L517.50,89.50 L519.00,90.79 L520.50,92.12 L522.00,93.48 L523.50,94.87 L525.00,96.30 L526.50,97.75 L528.00,99.24 L529.50,100.76 L531.00,102.31 L532.50,103.88 L534.00,105.49 L535.50,107.12 L537.00,108.78 L538.50,110.47 L540.00,112.18 L541.50,113.91 L543.00,115.67 L544.50,117.45 L546.00,119.26 L547.50,121.09 L549.00,122.94 L550.50,124.80 L552.00,126.69 L553.50,128.60 L555.00,130.53 L556.50,132.47 L558.00,134.44 L559.50,136.41 L561.00,138.41 L562.50,140.42 L564.00,142.44 L565.50,144.48 L567.00,146.53 L568.50,148.59 L570.00,150.67 L571.50,152.75 L573.00,154.85 L574.50,156.95 L576.00,159.07 L577.50,161.19 L579.00,163.32 L580.50,165.45 L582.00,167.60 L583.50,169.74 L585.00,171.87 L586.50,174.00 L588.00,176.11 L589.50,178.21 L591.00,180.28 L592.50,182.32 L594.00,184.32 L595.50,186.29 L597.00,188.22 L598.50,190.09 L600.00,191.92 L601.50,193.68 L603.00,195.39 L604.50,197.03 L606.00,198.59 L607.50,200.08 L609.00,201.49 L610.50,202.81 L612.00,204.04 L613.50,205.17 L615.00,206.20 L616.50,207.13 L618.00,207.95 L619.50,208.65 L621.00,209.23 L622.50,209.72 L624.00,210.12 L625.50,210.44 L627.00,210.71 L628.50,210.94 L630.00,211.14 L631.50,211.33 L633.00,211.52 L634.50,211.73 L636.00,211.95 L637.50,212.18 L639.00,212.42 L640.50,212.66 L642.00,212.91 L643.50,213.16 L645.00,213.41 L646.50,213.65 L648.00,213.89 L649.50,214.12 L651.00,214.33 L652.50,214.53 L654.00,214.72 L655.50,214.89 L657.00,215.03 L658.50,215.15 L660.00,215.25 L661.50,215.31 L663.00,215.35 L664.50,215.35 L666.00,215.35 L667.50,215.35 L669.00,215.35 L670.50,215.35 L672.00,215.35 L673.50,215.35 L675.00,215.35" fill="none" stroke="#000099" stroke-width="2.1" stroke-linejoin="round"/>
<path d="M390.10,49.42 L391.60,50.07 L393.10,50.72 L394.60,51.38 L396.10,52.06 L397.60,52.74 L399.10,53.44 L400.60,54.16 L402.10,54.90 L403.60,55.65 L405.10,56.42 L406.60,57.21 L408.10,58.03 L409.60,58.87 L411.10,59.73 L412.60,60.63 L414.10,61.55 L415.60,62.50 L417.10,63.48 L418.60,64.50 L420.10,65.54 L421.60,66.63 L423.10,67.75 L424.60,68.91 L426.10,70.11 L427.60,71.35 L429.10,72.63 L430.60,73.96 L432.10,75.32 L433.60,76.73 L435.10,78.18 L436.60,79.66 L438.10,81.17 L439.60,82.72 L441.10,84.29 L442.60,85.89 L444.10,87.52 L445.60,89.17 L447.10,90.84 L448.60,92.53 L450.10,94.23 L451.60,95.95 L453.10,97.68 L454.60,99.42 L456.10,101.17 L457.60,102.92 L459.10,104.68 L460.60,106.44 L462.10,108.19 L463.60,109.95 L465.10,111.70 L466.60,113.44 L468.10,115.18 L469.60,116.91 L471.10,118.63 L472.60,120.35 L474.10,122.06 L475.60,123.76 L477.10,125.45 L478.60,127.13 L480.10,128.80 L481.60,130.47 L483.10,132.12 L484.60,133.76 L486.10,135.39 L487.60,137.01 L489.10,138.62 L490.60,140.22 L492.10,141.81 L493.60,143.38 L495.10,144.94 L496.60,146.48 L498.10,148.01 L499.60,149.53 L501.10,151.03 L502.60,152.52 L504.10,153.99 L505.60,155.45 L507.10,156.89 L508.60,158.32 L510.10,159.72 L511.60,161.11 L513.10,162.49 L514.60,163.84 L516.10,165.18 L517.60,166.49 L519.10,167.79 L520.60,169.07 L522.10,170.33 L523.60,171.57 L525.10,172.79 L526.60,173.98 L528.10,175.16 L529.60,176.31 L531.10,177.44 L532.60,178.55 L534.10,179.64 L535.60,180.70 L537.10,181.74 L538.60,182.76 L540.10,183.76 L541.60,184.73 L543.10,185.68 L544.60,186.61 L546.10,187.52 L547.60,188.41 L549.10,189.28 L550.60,190.13 L552.10,190.96 L553.60,191.77 L555.10,192.56 L556.60,193.33 L558.10,194.08 L559.60,194.81 L561.10,195.52 L562.60,196.21 L564.10,196.89 L565.60,197.55 L567.10,198.19 L568.60,198.81 L570.10,199.42 L571.60,200.01 L573.10,200.58 L574.60,201.14 L576.10,201.68 L577.60,202.20 L579.10,202.71 L580.60,203.20 L582.10,203.68 L583.60,204.14 L585.10,204.59 L586.60,205.03 L588.10,205.45 L589.60,205.85 L591.10,206.24 L592.60,206.62 L594.10,206.99 L595.60,207.34 L597.10,207.68 L598.60,208.01 L600.10,208.33 L601.60,208.63 L603.10,208.92 L604.60,209.20 L606.10,209.47 L607.60,209.73 L609.10,209.98 L610.60,210.22 L612.10,210.45 L613.60,210.66 L615.10,210.87 L616.60,211.07 L618.10,211.26 L619.60,211.44 L621.10,211.61 L622.60,211.77 L624.10,211.93 L625.60,212.08 L627.10,212.22 L628.60,212.35 L630.10,212.47 L631.60,212.59 L633.10,212.70 L634.60,212.81 L636.10,212.91 L637.60,213.00 L639.10,213.09 L640.60,213.17 L642.10,213.25 L643.60,213.32 L645.10,213.39 L646.60,213.45 L648.10,213.51 L649.60,213.56 L651.10,213.61 L652.60,213.66 L654.10,213.70 L655.60,213.75 L657.10,213.78 L658.60,213.82 L660.10,213.85 L661.60,213.89 L663.10,213.92 L664.60,213.95 L666.10,213.97 L667.60,214.00 L669.10,214.03 L670.60,214.05 L672.10,214.08 L673.60,214.10 L675.00,214.13" fill="none" stroke="#ff8000" stroke-width="2.1" stroke-linejoin="round"/>
<rect x="42.50" y="4.50" width="287.50" height="210.00" fill="none" stroke="#676767" stroke-width="1.0"/>
<line x1="71.35" y1="214.50" x2="71.35" y2="212.50" stroke="#676767" stroke-width="1.0"/>
<line x1="88.22" y1="214.50" x2="88.22" y2="212.50" stroke="#676767" stroke-width="1.0"/>
<line x1="100.20" y1="214.50" x2="100.20" y2="212.50" stroke="#676767" stroke-width="1.0"/>
<line x1="109.48" y1="214.50" x2="109.48" y2="212.50" stroke="#676767" stroke-width="1.0"/>
<line x1="117.07" y1="214.50" x2="117.07" y2="212.50" stroke="#676767" stroke-width="1.0"/>
<line x1="123.49" y1="214.50" x2="123.49" y2="212.50" stroke="#676767" stroke-width="1.0"/>
<line x1="129.05" y1="214.50" x2="129.05" y2="212.50" stroke="#676767" stroke-width="1.0"/>
<line x1="133.95" y1="214.50" x2="133.95" y2="212.50" stroke="#676767" stroke-width="1.0"/>
<line x1="138.33" y1="214.50" x2="138.33" y2="211.00" stroke="#676767" stroke-width="1.0"/>
<line x1="167.18" y1="214.50" x2="167.18" y2="212.50" stroke="#676767" stroke-width="1.0"/>
<line x1="184.06" y1="214.50" x2="184.06" y2="212.50" stroke="#676767" stroke-width="1.0"/>
<line x1="196.03" y1="214.50" x2="196.03" y2="212.50" stroke="#676767" stroke-width="1.0"/>
<line x1="205.32" y1="214.50" x2="205.32" y2="212.50" stroke="#676767" stroke-width="1.0"/>
<line x1="212.91" y1="214.50" x2="212.91" y2="212.50" stroke="#676767" stroke-width="1.0"/>
<line x1="219.32" y1="214.50" x2="219.32" y2="212.50" stroke="#676767" stroke-width="1.0"/>
<line x1="224.88" y1="214.50" x2="224.88" y2="212.50" stroke="#676767" stroke-width="1.0"/>
<line x1="229.78" y1="214.50" x2="229.78" y2="212.50" stroke="#676767" stroke-width="1.0"/>
<line x1="234.17" y1="214.50" x2="234.17" y2="211.00" stroke="#676767" stroke-width="1.0"/>
<line x1="263.02" y1="214.50" x2="263.02" y2="212.50" stroke="#676767" stroke-width="1.0"/>
<line x1="279.89" y1="214.50" x2="279.89" y2="212.50" stroke="#676767" stroke-width="1.0"/>
<line x1="291.86" y1="214.50" x2="291.86" y2="212.50" stroke="#676767" stroke-width="1.0"/>
<line x1="301.15" y1="214.50" x2="301.15" y2="212.50" stroke="#676767" stroke-width="1.0"/>
<line x1="308.74" y1="214.50" x2="308.74" y2="212.50" stroke="#676767" stroke-width="1.0"/>
<line x1="315.16" y1="214.50" x2="315.16" y2="212.50" stroke="#676767" stroke-width="1.0"/>
<line x1="320.71" y1="214.50" x2="320.71" y2="212.50" stroke="#676767" stroke-width="1.0"/>
<line x1="325.61" y1="214.50" x2="325.61" y2="212.50" stroke="#676767" stroke-width="1.0"/>
<line x1="42.50" y1="195.38" x2="45.00" y2="195.38" stroke="#676767" stroke-width="1.0"/>
<line x1="42.50" y1="176.26" x2="47.00" y2="176.26" stroke="#676767" stroke-width="1.0"/>
<line x1="42.50" y1="157.14" x2="45.00" y2="157.14" stroke="#676767" stroke-width="1.0"/>
<line x1="42.50" y1="138.02" x2="47.00" y2="138.02" stroke="#676767" stroke-width="1.0"/>
<line x1="42.50" y1="118.90" x2="45.00" y2="118.90" stroke="#676767" stroke-width="1.0"/>
<line x1="42.50" y1="99.78" x2="47.00" y2="99.78" stroke="#676767" stroke-width="1.0"/>
<line x1="42.50" y1="80.66" x2="45.00" y2="80.66" stroke="#676767" stroke-width="1.0"/>
<line x1="42.50" y1="61.54" x2="47.00" y2="61.54" stroke="#676767" stroke-width="1.0"/>
<line x1="42.50" y1="42.42" x2="45.00" y2="42.42" stroke="#676767" stroke-width="1.0"/>
<line x1="42.50" y1="23.30" x2="47.00" y2="23.30" stroke="#676767" stroke-width="1.0"/>
<g transform="translate(37.92,218.30) scale(0.9400,1.0000)"><text x="0" y="0" font-size="10.6" text-anchor="end" font-weight="normal" font-style="normal" fill="#111111" stroke="#111" stroke-width="0.22">0.0</text></g>
<g transform="translate(37.92,180.06) scale(0.9400,1.0000)"><text x="0" y="0" font-size="10.6" text-anchor="end" font-weight="normal" font-style="normal" fill="#111111" stroke="#111" stroke-width="0.22">0.2</text></g>
<g transform="translate(37.92,141.82) scale(0.9400,1.0000)"><text x="0" y="0" font-size="10.6" text-anchor="end" font-weight="normal" font-style="normal" fill="#111111" stroke="#111" stroke-width="0.22">0.4</text></g>
<g transform="translate(37.92,103.58) scale(0.9400,1.0000)"><text x="0" y="0" font-size="10.6" text-anchor="end" font-weight="normal" font-style="normal" fill="#111111" stroke="#111" stroke-width="0.22">0.6</text></g>
<g transform="translate(37.92,65.34) scale(0.9400,1.0000)"><text x="0" y="0" font-size="10.6" text-anchor="end" font-weight="normal" font-style="normal" fill="#111111" stroke="#111" stroke-width="0.22">0.8</text></g>
<g transform="translate(37.92,27.10) scale(0.9400,1.0000)"><text x="0" y="0" font-size="10.6" text-anchor="end" font-weight="normal" font-style="normal" fill="#111111" stroke="#111" stroke-width="0.22">1.0</text></g>
<g transform="translate(42.50,229.20) scale(1.0000,1.0000)"><text x="0" y="0" font-size="10.6" text-anchor="middle" font-weight="normal" font-style="normal" fill="#111111" stroke="#111" stroke-width="0.22">10<tspan font-size="7.9" dy="-4.6">0</tspan></text></g>
<g transform="translate(138.33,229.20) scale(1.0000,1.0000)"><text x="0" y="0" font-size="10.6" text-anchor="middle" font-weight="normal" font-style="normal" fill="#111111" stroke="#111" stroke-width="0.22">10<tspan font-size="7.9" dy="-4.6">1</tspan></text></g>
<g transform="translate(234.17,229.20) scale(1.0000,1.0000)"><text x="0" y="0" font-size="10.6" text-anchor="middle" font-weight="normal" font-style="normal" fill="#111111" stroke="#111" stroke-width="0.22">10<tspan font-size="7.9" dy="-4.6">2</tspan></text></g>
<g transform="translate(330.00,229.20) scale(1.0000,1.0000)"><text x="0" y="0" font-size="10.6" text-anchor="middle" font-weight="normal" font-style="normal" fill="#111111" stroke="#111" stroke-width="0.22">10<tspan font-size="7.9" dy="-4.6">3</tspan></text></g>
<rect x="388.50" y="4.50" width="287.00" height="210.00" fill="none" stroke="#676767" stroke-width="1.0"/>
<line x1="417.30" y1="214.50" x2="417.30" y2="212.50" stroke="#676767" stroke-width="1.0"/>
<line x1="434.14" y1="214.50" x2="434.14" y2="212.50" stroke="#676767" stroke-width="1.0"/>
<line x1="446.10" y1="214.50" x2="446.10" y2="212.50" stroke="#676767" stroke-width="1.0"/>
<line x1="455.37" y1="214.50" x2="455.37" y2="212.50" stroke="#676767" stroke-width="1.0"/>
<line x1="462.94" y1="214.50" x2="462.94" y2="212.50" stroke="#676767" stroke-width="1.0"/>
<line x1="469.35" y1="214.50" x2="469.35" y2="212.50" stroke="#676767" stroke-width="1.0"/>
<line x1="474.90" y1="214.50" x2="474.90" y2="212.50" stroke="#676767" stroke-width="1.0"/>
<line x1="479.79" y1="214.50" x2="479.79" y2="212.50" stroke="#676767" stroke-width="1.0"/>
<line x1="484.17" y1="214.50" x2="484.17" y2="211.00" stroke="#676767" stroke-width="1.0"/>
<line x1="512.97" y1="214.50" x2="512.97" y2="212.50" stroke="#676767" stroke-width="1.0"/>
<line x1="529.81" y1="214.50" x2="529.81" y2="212.50" stroke="#676767" stroke-width="1.0"/>
<line x1="541.76" y1="214.50" x2="541.76" y2="212.50" stroke="#676767" stroke-width="1.0"/>
<line x1="551.03" y1="214.50" x2="551.03" y2="212.50" stroke="#676767" stroke-width="1.0"/>
<line x1="558.61" y1="214.50" x2="558.61" y2="212.50" stroke="#676767" stroke-width="1.0"/>
<line x1="565.01" y1="214.50" x2="565.01" y2="212.50" stroke="#676767" stroke-width="1.0"/>
<line x1="570.56" y1="214.50" x2="570.56" y2="212.50" stroke="#676767" stroke-width="1.0"/>
<line x1="575.46" y1="214.50" x2="575.46" y2="212.50" stroke="#676767" stroke-width="1.0"/>
<line x1="579.83" y1="214.50" x2="579.83" y2="211.00" stroke="#676767" stroke-width="1.0"/>
<line x1="608.63" y1="214.50" x2="608.63" y2="212.50" stroke="#676767" stroke-width="1.0"/>
<line x1="625.48" y1="214.50" x2="625.48" y2="212.50" stroke="#676767" stroke-width="1.0"/>
<line x1="637.43" y1="214.50" x2="637.43" y2="212.50" stroke="#676767" stroke-width="1.0"/>
<line x1="646.70" y1="214.50" x2="646.70" y2="212.50" stroke="#676767" stroke-width="1.0"/>
<line x1="654.28" y1="214.50" x2="654.28" y2="212.50" stroke="#676767" stroke-width="1.0"/>
<line x1="660.68" y1="214.50" x2="660.68" y2="212.50" stroke="#676767" stroke-width="1.0"/>
<line x1="666.23" y1="214.50" x2="666.23" y2="212.50" stroke="#676767" stroke-width="1.0"/>
<line x1="671.12" y1="214.50" x2="671.12" y2="212.50" stroke="#676767" stroke-width="1.0"/>
<line x1="388.50" y1="195.41" x2="391.00" y2="195.41" stroke="#676767" stroke-width="1.0"/>
<line x1="388.50" y1="176.32" x2="393.00" y2="176.32" stroke="#676767" stroke-width="1.0"/>
<line x1="388.50" y1="157.23" x2="391.00" y2="157.23" stroke="#676767" stroke-width="1.0"/>
<line x1="388.50" y1="138.14" x2="393.00" y2="138.14" stroke="#676767" stroke-width="1.0"/>
<line x1="388.50" y1="119.05" x2="391.00" y2="119.05" stroke="#676767" stroke-width="1.0"/>
<line x1="388.50" y1="99.96" x2="393.00" y2="99.96" stroke="#676767" stroke-width="1.0"/>
<line x1="388.50" y1="80.87" x2="391.00" y2="80.87" stroke="#676767" stroke-width="1.0"/>
<line x1="388.50" y1="61.78" x2="393.00" y2="61.78" stroke="#676767" stroke-width="1.0"/>
<line x1="388.50" y1="42.69" x2="391.00" y2="42.69" stroke="#676767" stroke-width="1.0"/>
<line x1="388.50" y1="23.60" x2="393.00" y2="23.60" stroke="#676767" stroke-width="1.0"/>
<g transform="translate(383.62,218.30) scale(0.9400,1.0000)"><text x="0" y="0" font-size="10.6" text-anchor="end" font-weight="normal" font-style="normal" fill="#111111" stroke="#111" stroke-width="0.22">0.0</text></g>
<g transform="translate(383.62,180.12) scale(0.9400,1.0000)"><text x="0" y="0" font-size="10.6" text-anchor="end" font-weight="normal" font-style="normal" fill="#111111" stroke="#111" stroke-width="0.22">0.2</text></g>
<g transform="translate(383.62,141.94) scale(0.9400,1.0000)"><text x="0" y="0" font-size="10.6" text-anchor="end" font-weight="normal" font-style="normal" fill="#111111" stroke="#111" stroke-width="0.22">0.4</text></g>
<g transform="translate(383.62,103.76) scale(0.9400,1.0000)"><text x="0" y="0" font-size="10.6" text-anchor="end" font-weight="normal" font-style="normal" fill="#111111" stroke="#111" stroke-width="0.22">0.6</text></g>
<g transform="translate(383.62,65.58) scale(0.9400,1.0000)"><text x="0" y="0" font-size="10.6" text-anchor="end" font-weight="normal" font-style="normal" fill="#111111" stroke="#111" stroke-width="0.22">0.8</text></g>
<g transform="translate(383.62,27.40) scale(0.9400,1.0000)"><text x="0" y="0" font-size="10.6" text-anchor="end" font-weight="normal" font-style="normal" fill="#111111" stroke="#111" stroke-width="0.22">1.0</text></g>
<g transform="translate(388.50,229.20) scale(1.0000,1.0000)"><text x="0" y="0" font-size="10.6" text-anchor="middle" font-weight="normal" font-style="normal" fill="#111111" stroke="#111" stroke-width="0.22">10<tspan font-size="7.9" dy="-4.6">0</tspan></text></g>
<g transform="translate(484.17,229.20) scale(1.0000,1.0000)"><text x="0" y="0" font-size="10.6" text-anchor="middle" font-weight="normal" font-style="normal" fill="#111111" stroke="#111" stroke-width="0.22">10<tspan font-size="7.9" dy="-4.6">1</tspan></text></g>
<g transform="translate(579.83,229.20) scale(1.0000,1.0000)"><text x="0" y="0" font-size="10.6" text-anchor="middle" font-weight="normal" font-style="normal" fill="#111111" stroke="#111" stroke-width="0.22">10<tspan font-size="7.9" dy="-4.6">2</tspan></text></g>
<g transform="translate(675.50,229.20) scale(1.0000,1.0000)"><text x="0" y="0" font-size="10.6" text-anchor="middle" font-weight="normal" font-style="normal" fill="#111111" stroke="#111" stroke-width="0.22">10<tspan font-size="7.9" dy="-4.6">3</tspan></text></g>
<g transform="translate(212.46,18.70) scale(0.9857,1.0000)"><text x="0" y="0" font-size="12.2" text-anchor="start" font-weight="normal" font-style="normal" fill="#111111" stroke="#111" stroke-width="0.22">P</text></g>
<g transform="translate(220.19,18.50) scale(1.0270,1.0000)"><text x="0" y="0" font-size="10.3" text-anchor="start" font-weight="normal" font-style="normal" fill="#111111" stroke="#111" stroke-width="0.22">BDB-TF</text></g>
<g transform="translate(270.59,17.90) scale(1.0604,1.0000)"><text x="0" y="0" font-size="10.2" text-anchor="start" font-weight="normal" font-style="normal" fill="#111111" stroke="#111" stroke-width="0.22"><tspan font-style="italic">L</tspan><tspan font-size="7.5" dy="2.5">D</tspan><tspan dy="-2.5">=27.0 nm</tspan></text></g>
<g transform="translate(213.61,30.60) scale(1.0294,1.0000)"><text x="0" y="0" font-size="10.2" text-anchor="start" font-weight="normal" font-style="normal" fill="#111111" stroke="#111" stroke-width="0.22">test</text></g>
<g transform="translate(248.27,30.60) scale(0.9938,1.0000)"><text x="0" y="0" font-size="10.2" text-anchor="start" font-weight="normal" font-style="normal" fill="#111111" stroke="#111" stroke-width="0.22">fit</text></g>
<g transform="translate(266.41,30.70) scale(1.0255,1.0000)"><text x="0" y="0" font-size="10.2" text-anchor="start" font-weight="normal" font-style="normal" fill="#111111" stroke="#111" stroke-width="0.22"><tspan font-style="italic">I</tspan><tspan font-size="7.5" dy="2.5">0</tspan><tspan dy="-2.5"> (μJ cm</tspan><tspan font-size="7.5" dy="-4">-2</tspan><tspan dy="4">)</tspan></text></g>
<rect x="221.8" y="41.9" width="1.7" height="1.7" fill="#000099"/>
<rect x="221.8" y="55.3" width="1.7" height="1.7" fill="#ff8000"/>
<line x1="240.90" y1="41.80" x2="265.10" y2="41.80" stroke="#000099" stroke-width="2.1"/>
<line x1="240.90" y1="55.30" x2="265.10" y2="55.30" stroke="#ff8000" stroke-width="2.1"/>
<g transform="translate(280.15,45.40) scale(1.1154,1.0000)"><text x="0" y="0" font-size="10.2" text-anchor="start" font-weight="normal" font-style="normal" fill="#111111" stroke="#111" stroke-width="0.22">0.8</text></g>
<g transform="translate(277.36,58.60) scale(1.0474,1.0000)"><text x="0" y="0" font-size="10.2" text-anchor="start" font-weight="normal" font-style="normal" fill="#111111" stroke="#111" stroke-width="0.22">13.0</text></g>
<g transform="translate(559.09,18.90) scale(1.0571,1.0000)"><text x="0" y="0" font-size="10.2" text-anchor="start" font-weight="normal" font-style="normal" fill="#111111" stroke="#111" stroke-width="0.22">BTP-eC9</text></g>
<g transform="translate(617.20,18.20) scale(1.0604,1.0000)"><text x="0" y="0" font-size="10.2" text-anchor="start" font-weight="normal" font-style="normal" fill="#111111" stroke="#111" stroke-width="0.22"><tspan font-style="italic">L</tspan><tspan font-size="7.5" dy="2.5">D</tspan><tspan dy="-2.5">=31.0 nm</tspan></text></g>
<g transform="translate(560.30,31.30) scale(0.9941,1.0000)"><text x="0" y="0" font-size="10.2" text-anchor="start" font-weight="normal" font-style="normal" fill="#111111" stroke="#111" stroke-width="0.22">test</text></g>
<g transform="translate(594.49,31.30) scale(1.0250,1.0000)"><text x="0" y="0" font-size="10.2" text-anchor="start" font-weight="normal" font-style="normal" fill="#111111" stroke="#111" stroke-width="0.22">fit</text></g>
<g transform="translate(612.79,30.30) scale(1.0320,1.0000)"><text x="0" y="0" font-size="10.2" text-anchor="start" font-weight="normal" font-style="normal" fill="#111111" stroke="#111" stroke-width="0.22"><tspan font-style="italic">I</tspan><tspan font-size="7.5" dy="2.5">0</tspan><tspan dy="-2.5"> (μJ cm</tspan><tspan font-size="7.5" dy="-4">-2</tspan><tspan dy="4">)</tspan></text></g>
<rect x="568.9" y="43" width="1.7" height="1.7" fill="#000099"/>
<rect x="568.9" y="57" width="1.7" height="1.7" fill="#ff8000"/>
<line x1="587.40" y1="42.40" x2="612.10" y2="42.40" stroke="#000099" stroke-width="2.1"/>
<line x1="587.40" y1="58.20" x2="612.10" y2="58.20" stroke="#ff8000" stroke-width="2.1"/>
<g transform="translate(627.61,46.80) scale(1.0214,1.0000)"><text x="0" y="0" font-size="10.2" text-anchor="start" font-weight="normal" font-style="normal" fill="#111111" stroke="#111" stroke-width="0.22">0.8</text></g>
<g transform="translate(624.55,61.00) scale(1.0684,1.0000)"><text x="0" y="0" font-size="10.2" text-anchor="start" font-weight="normal" font-style="normal" fill="#111111" stroke="#111" stroke-width="0.22">13.0</text></g>
<g transform="translate(186.35,245.00) scale(0.9903,1.0000)"><text x="0" y="0" font-size="13.8" text-anchor="middle" font-weight="normal" font-style="normal" fill="#111111" stroke="#111" stroke-width="0.22"><tspan font-style="italic">t</tspan> (ps)</text></g>
<g transform="translate(532.00,245.00) scale(1.0000,1.0000)"><text x="0" y="0" font-size="13.8" text-anchor="middle" font-weight="normal" font-style="normal" fill="#111111" stroke="#111" stroke-width="0.22"><tspan font-style="italic">t</tspan> (ps)</text></g>
<g transform="translate(17.98,109.57) scale(1.1083,1.0416) rotate(-90)"><text x="0" y="0" font-size="13.3" text-anchor="middle" font-weight="normal" font-style="normal" fill="#111111" stroke="#111" stroke-width="0.22">Normailized exciton density</text></g>
<g transform="translate(363.55,109.10) scale(1.1167,1.0380) rotate(-90)"><text x="0" y="0" font-size="13.3" text-anchor="middle" font-weight="normal" font-style="normal" fill="#111111" stroke="#111" stroke-width="0.22">Normalized exciton density</text></g>
<g transform="translate(8.90,8.70) scale(0.9437,1.0000)"><text x="0" y="0" font-size="14.5" text-anchor="start" font-weight="bold" font-style="normal" fill="#000" stroke="#111" stroke-width="0.22">a</text></g>
<g transform="translate(355.45,11.00) scale(0.9562,1.0000)"><text x="0" y="0" font-size="14.5" text-anchor="start" font-weight="bold" font-style="normal" fill="#000" stroke="#111" stroke-width="0.22">b</text></g>
<g transform="translate(10.04,251.30) scale(1.0143,1.0000)"><text x="0" y="0" font-size="14.5" text-anchor="start" font-weight="bold" font-style="normal" fill="#000" stroke="#111" stroke-width="0.22">c</text></g>
<g transform="translate(355.62,250.80) scale(0.9500,1.0000)"><text x="0" y="0" font-size="14.5" text-anchor="start" font-weight="bold" font-style="normal" fill="#000" stroke="#111" stroke-width="0.22">d</text></g>
<rect x="45.5" y="251.5" width="287.50" height="209.00" fill="none" stroke="#676767" stroke-width="1.0"/>
<line x1="71.64" y1="460.50" x2="71.64" y2="456.00" stroke="#676767" stroke-width="1.0"/>
<g transform="translate(71.14,473.90) scale(1.0000,1.0000)"><text x="0" y="0" font-size="10.8" text-anchor="middle" font-weight="normal" font-style="normal" fill="#111111" stroke="#111" stroke-width="0.22">300</text></g>
<line x1="97.77" y1="460.50" x2="97.77" y2="458.00" stroke="#676767" stroke-width="1.0"/>
<line x1="123.91" y1="460.50" x2="123.91" y2="456.00" stroke="#676767" stroke-width="1.0"/>
<g transform="translate(123.41,473.90) scale(1.0000,1.0000)"><text x="0" y="0" font-size="10.8" text-anchor="middle" font-weight="normal" font-style="normal" fill="#111111" stroke="#111" stroke-width="0.22">250</text></g>
<line x1="150.05" y1="460.50" x2="150.05" y2="458.00" stroke="#676767" stroke-width="1.0"/>
<line x1="176.18" y1="460.50" x2="176.18" y2="456.00" stroke="#676767" stroke-width="1.0"/>
<g transform="translate(175.68,473.90) scale(1.0000,1.0000)"><text x="0" y="0" font-size="10.8" text-anchor="middle" font-weight="normal" font-style="normal" fill="#111111" stroke="#111" stroke-width="0.22">200</text></g>
<line x1="202.32" y1="460.50" x2="202.32" y2="458.00" stroke="#676767" stroke-width="1.0"/>
<line x1="228.45" y1="460.50" x2="228.45" y2="456.00" stroke="#676767" stroke-width="1.0"/>
<g transform="translate(227.95,473.90) scale(1.0000,1.0000)"><text x="0" y="0" font-size="10.8" text-anchor="middle" font-weight="normal" font-style="normal" fill="#111111" stroke="#111" stroke-width="0.22">150</text></g>
<line x1="254.59" y1="460.50" x2="254.59" y2="458.00" stroke="#676767" stroke-width="1.0"/>
<line x1="280.73" y1="460.50" x2="280.73" y2="456.00" stroke="#676767" stroke-width="1.0"/>
<g transform="translate(280.23,473.90) scale(1.0000,1.0000)"><text x="0" y="0" font-size="10.8" text-anchor="middle" font-weight="normal" font-style="normal" fill="#111111" stroke="#111" stroke-width="0.22">100</text></g>
<line x1="306.86" y1="460.50" x2="306.86" y2="458.00" stroke="#676767" stroke-width="1.0"/>
<g transform="translate(332.50,473.90) scale(1.0000,1.0000)"><text x="0" y="0" font-size="10.8" text-anchor="middle" font-weight="normal" font-style="normal" fill="#111111" stroke="#111" stroke-width="0.22">50</text></g>
<g transform="translate(38.71,467.40) scale(0.9667,1.0000)"><text x="0" y="0" font-size="10.8" text-anchor="end" font-weight="normal" font-style="normal" fill="#111111" stroke="#111" stroke-width="0.22">0.80</text></g>
<line x1="45.50" y1="447.44" x2="48.00" y2="447.44" stroke="#676767" stroke-width="1.0"/>
<line x1="45.50" y1="434.38" x2="50.00" y2="434.38" stroke="#676767" stroke-width="1.0"/>
<g transform="translate(38.71,441.27) scale(0.9667,1.0000)"><text x="0" y="0" font-size="10.8" text-anchor="end" font-weight="normal" font-style="normal" fill="#111111" stroke="#111" stroke-width="0.22">0.82</text></g>
<line x1="45.50" y1="421.31" x2="48.00" y2="421.31" stroke="#676767" stroke-width="1.0"/>
<line x1="45.50" y1="408.25" x2="50.00" y2="408.25" stroke="#676767" stroke-width="1.0"/>
<g transform="translate(38.71,415.15) scale(0.9667,1.0000)"><text x="0" y="0" font-size="10.8" text-anchor="end" font-weight="normal" font-style="normal" fill="#111111" stroke="#111" stroke-width="0.22">0.84</text></g>
<line x1="45.50" y1="395.19" x2="48.00" y2="395.19" stroke="#676767" stroke-width="1.0"/>
<line x1="45.50" y1="382.12" x2="50.00" y2="382.12" stroke="#676767" stroke-width="1.0"/>
<g transform="translate(38.71,389.02) scale(0.9667,1.0000)"><text x="0" y="0" font-size="10.8" text-anchor="end" font-weight="normal" font-style="normal" fill="#111111" stroke="#111" stroke-width="0.22">0.86</text></g>
<line x1="45.50" y1="369.06" x2="48.00" y2="369.06" stroke="#676767" stroke-width="1.0"/>
<line x1="45.50" y1="356.00" x2="50.00" y2="356.00" stroke="#676767" stroke-width="1.0"/>
<g transform="translate(38.71,362.90) scale(0.9667,1.0000)"><text x="0" y="0" font-size="10.8" text-anchor="end" font-weight="normal" font-style="normal" fill="#111111" stroke="#111" stroke-width="0.22">0.88</text></g>
<line x1="45.50" y1="342.94" x2="48.00" y2="342.94" stroke="#676767" stroke-width="1.0"/>
<line x1="45.50" y1="329.88" x2="50.00" y2="329.88" stroke="#676767" stroke-width="1.0"/>
<g transform="translate(38.71,336.77) scale(0.9667,1.0000)"><text x="0" y="0" font-size="10.8" text-anchor="end" font-weight="normal" font-style="normal" fill="#111111" stroke="#111" stroke-width="0.22">0.90</text></g>
<line x1="45.50" y1="316.81" x2="48.00" y2="316.81" stroke="#676767" stroke-width="1.0"/>
<line x1="45.50" y1="303.75" x2="50.00" y2="303.75" stroke="#676767" stroke-width="1.0"/>
<g transform="translate(38.71,310.65) scale(0.9667,1.0000)"><text x="0" y="0" font-size="10.8" text-anchor="end" font-weight="normal" font-style="normal" fill="#111111" stroke="#111" stroke-width="0.22">0.92</text></g>
<line x1="45.50" y1="290.69" x2="48.00" y2="290.69" stroke="#676767" stroke-width="1.0"/>
<line x1="45.50" y1="277.62" x2="50.00" y2="277.62" stroke="#676767" stroke-width="1.0"/>
<g transform="translate(38.71,284.52) scale(0.9667,1.0000)"><text x="0" y="0" font-size="10.8" text-anchor="end" font-weight="normal" font-style="normal" fill="#111111" stroke="#111" stroke-width="0.22">0.94</text></g>
<line x1="45.50" y1="264.56" x2="48.00" y2="264.56" stroke="#676767" stroke-width="1.0"/>
<g transform="translate(38.71,258.40) scale(0.9667,1.0000)"><text x="0" y="0" font-size="10.8" text-anchor="end" font-weight="normal" font-style="normal" fill="#111111" stroke="#111" stroke-width="0.22">0.96</text></g>
<g transform="translate(54.27,269.70) scale(1.0286,1.0000)"><text x="0" y="0" font-size="12.6" text-anchor="start" font-weight="normal" font-style="normal" fill="#111111" stroke="#111" stroke-width="0.22">P</text></g>
<g transform="translate(63.59,269.50) scale(1.0684,1.0000)"><text x="0" y="0" font-size="10.5" text-anchor="start" font-weight="normal" font-style="normal" fill="#111111" stroke="#111" stroke-width="0.22">BDB-TF</text></g>
<g transform="translate(105.18,269.60) scale(1.0229,1.0000)"><text x="0" y="0" font-size="11.2" text-anchor="start" font-weight="normal" font-style="normal" fill="#111111" stroke="#111" stroke-width="0.22">:BTP-eC9</text></g>
<polyline points="71.70,437.10 102.90,427.70 134.40,393.80 165.50,365.30 197.00,350.80 228.50,336.40 259.80,316.80 270.20,307.60 280.70,302.60 291.20,294.80 301.50,288.20 303.90,272.30" fill="none" stroke="#959595" stroke-width="0.85"/>
<polyline points="71.70,432.80 102.90,419.80 134.40,408.20 165.50,383.30 197.00,369.00 228.50,356.10 259.70,342.90 270.20,331.00 280.70,323.20 291.20,315.50 301.50,306.30 303.90,295.90" fill="none" stroke="#959595" stroke-width="0.85"/>
<circle cx="71.70" cy="437.10" r="3.6" fill="#fff" stroke="#ff8000" stroke-width="1.7"/>
<circle cx="102.90" cy="427.70" r="3.6" fill="#fff" stroke="#ff8000" stroke-width="1.7"/>
<circle cx="134.40" cy="393.80" r="3.6" fill="#fff" stroke="#ff8000" stroke-width="1.7"/>
<circle cx="165.50" cy="365.30" r="3.6" fill="#fff" stroke="#ff8000" stroke-width="1.7"/>
<circle cx="197.00" cy="350.80" r="3.6" fill="#fff" stroke="#ff8000" stroke-width="1.7"/>
<circle cx="228.50" cy="336.40" r="3.6" fill="#fff" stroke="#ff8000" stroke-width="1.7"/>
<circle cx="259.80" cy="316.80" r="3.6" fill="#fff" stroke="#ff8000" stroke-width="1.7"/>
<circle cx="270.20" cy="307.60" r="3.6" fill="#fff" stroke="#ff8000" stroke-width="1.7"/>
<circle cx="280.70" cy="302.60" r="3.6" fill="#fff" stroke="#ff8000" stroke-width="1.7"/>
<circle cx="291.20" cy="294.80" r="3.6" fill="#fff" stroke="#ff8000" stroke-width="1.7"/>
<circle cx="301.50" cy="288.20" r="3.6" fill="#fff" stroke="#ff8000" stroke-width="1.7"/>
<circle cx="303.90" cy="272.30" r="3.6" fill="#fff" stroke="#ff8000" stroke-width="1.7"/>
<circle cx="71.70" cy="432.80" r="3.6" fill="#fff" stroke="#000099" stroke-width="1.7"/>
<circle cx="102.90" cy="419.80" r="3.6" fill="#fff" stroke="#000099" stroke-width="1.7"/>
<circle cx="134.40" cy="408.20" r="3.6" fill="#fff" stroke="#000099" stroke-width="1.7"/>
<circle cx="165.50" cy="383.30" r="3.6" fill="#fff" stroke="#000099" stroke-width="1.7"/>
<circle cx="197.00" cy="369.00" r="3.6" fill="#fff" stroke="#000099" stroke-width="1.7"/>
<circle cx="228.50" cy="356.10" r="3.6" fill="#fff" stroke="#000099" stroke-width="1.7"/>
<circle cx="259.70" cy="342.90" r="3.6" fill="#fff" stroke="#000099" stroke-width="1.7"/>
<circle cx="270.20" cy="331.00" r="3.6" fill="#fff" stroke="#000099" stroke-width="1.7"/>
<circle cx="280.70" cy="323.20" r="3.6" fill="#fff" stroke="#000099" stroke-width="1.7"/>
<circle cx="291.20" cy="315.50" r="3.6" fill="#fff" stroke="#000099" stroke-width="1.7"/>
<circle cx="301.50" cy="306.30" r="3.6" fill="#fff" stroke="#000099" stroke-width="1.7"/>
<circle cx="303.90" cy="295.90" r="3.6" fill="#fff" stroke="#000099" stroke-width="1.7"/>
<line x1="54.10" y1="344.00" x2="84.90" y2="344.00" stroke="#d6d6d6" stroke-width="1.7"/>
<circle cx="69.40" cy="343.80" r="3.6" fill="#fff" stroke="#ff8000" stroke-width="1.7"/>
<line x1="54.10" y1="362.40" x2="84.90" y2="362.40" stroke="#9a9a9a" stroke-width="1.0"/>
<circle cx="69.40" cy="362.40" r="3.6" fill="#fff" stroke="#000099" stroke-width="1.7"/>
<g transform="translate(88.86,348.70) scale(0.9579,1.0000)"><text x="0" y="0" font-size="10.5" text-anchor="start" font-weight="normal" font-style="normal" fill="#111111" stroke="#111" stroke-width="0.22"><tspan font-style="italic">λ</tspan><tspan font-size="7.6" dy="2.7">533</tspan></text></g>
<g transform="translate(89.23,367.40) scale(0.9316,1.0000)"><text x="0" y="0" font-size="10.5" text-anchor="start" font-weight="normal" font-style="normal" fill="#111111" stroke="#111" stroke-width="0.22"><tspan font-style="italic">λ</tspan><tspan font-size="7.6" dy="2.7">809</tspan></text></g>
<g transform="translate(140.19,493.10) scale(0.9824,1.0000)"><text x="0" y="0" font-size="14.1" text-anchor="start" font-weight="normal" font-style="normal" fill="#111111" stroke="#111" stroke-width="0.22">Temperature (K)</text></g>
<g transform="translate(11.35,355.00) scale(1.0385,0.9750) rotate(-90)"><text x="0" y="0" font-size="13.4" text-anchor="middle" font-weight="normal" font-style="normal" fill="#111111" stroke="#111" stroke-width="0.22"><tspan font-style="italic">V</tspan><tspan font-size="10" dy="3.8">oc</tspan><tspan dy="-3.8"> (V)</tspan></text></g>
<rect x="388.5" y="251.5" width="287.00" height="210.00" fill="none" stroke="#676767" stroke-width="1.0"/>
<g transform="translate(388.88,474.90) scale(1.0353,1.0000)"><text x="0" y="0" font-size="10.6" text-anchor="middle" font-weight="normal" font-style="normal" fill="#111111" stroke="#111" stroke-width="0.22">40</text></g>
<line x1="412.42" y1="461.50" x2="412.42" y2="459.00" stroke="#676767" stroke-width="1.0"/>
<line x1="436.33" y1="461.50" x2="436.33" y2="457.00" stroke="#676767" stroke-width="1.0"/>
<g transform="translate(436.72,474.90) scale(1.0353,1.0000)"><text x="0" y="0" font-size="10.6" text-anchor="middle" font-weight="normal" font-style="normal" fill="#111111" stroke="#111" stroke-width="0.22">60</text></g>
<line x1="460.25" y1="461.50" x2="460.25" y2="459.00" stroke="#676767" stroke-width="1.0"/>
<line x1="484.17" y1="461.50" x2="484.17" y2="457.00" stroke="#676767" stroke-width="1.0"/>
<g transform="translate(484.55,474.90) scale(1.0353,1.0000)"><text x="0" y="0" font-size="10.6" text-anchor="middle" font-weight="normal" font-style="normal" fill="#111111" stroke="#111" stroke-width="0.22">80</text></g>
<line x1="508.08" y1="461.50" x2="508.08" y2="459.00" stroke="#676767" stroke-width="1.0"/>
<line x1="532.00" y1="461.50" x2="532.00" y2="457.00" stroke="#676767" stroke-width="1.0"/>
<g transform="translate(532.38,474.90) scale(1.0353,1.0000)"><text x="0" y="0" font-size="10.6" text-anchor="middle" font-weight="normal" font-style="normal" fill="#111111" stroke="#111" stroke-width="0.22">100</text></g>
<line x1="555.92" y1="461.50" x2="555.92" y2="459.00" stroke="#676767" stroke-width="1.0"/>
<line x1="579.83" y1="461.50" x2="579.83" y2="457.00" stroke="#676767" stroke-width="1.0"/>
<g transform="translate(580.22,474.90) scale(1.0353,1.0000)"><text x="0" y="0" font-size="10.6" text-anchor="middle" font-weight="normal" font-style="normal" fill="#111111" stroke="#111" stroke-width="0.22">120</text></g>
<line x1="603.75" y1="461.50" x2="603.75" y2="459.00" stroke="#676767" stroke-width="1.0"/>
<line x1="627.67" y1="461.50" x2="627.67" y2="457.00" stroke="#676767" stroke-width="1.0"/>
<g transform="translate(628.05,474.90) scale(1.0353,1.0000)"><text x="0" y="0" font-size="10.6" text-anchor="middle" font-weight="normal" font-style="normal" fill="#111111" stroke="#111" stroke-width="0.22">140</text></g>
<line x1="651.58" y1="461.50" x2="651.58" y2="459.00" stroke="#676767" stroke-width="1.0"/>
<g transform="translate(675.88,474.90) scale(1.0353,1.0000)"><text x="0" y="0" font-size="10.6" text-anchor="middle" font-weight="normal" font-style="normal" fill="#111111" stroke="#111" stroke-width="0.22">160</text></g>
<line x1="388.50" y1="431.42" x2="393.00" y2="431.42" stroke="#676767" stroke-width="1.0"/>
<g transform="translate(384.87,435.32) scale(1.0273,1.0000)"><text x="0" y="0" font-size="10.8" text-anchor="end" font-weight="normal" font-style="normal" fill="#111111" stroke="#111" stroke-width="0.22">50</text></g>
<line x1="388.50" y1="361.88" x2="393.00" y2="361.88" stroke="#676767" stroke-width="1.0"/>
<g transform="translate(384.87,365.78) scale(1.0273,1.0000)"><text x="0" y="0" font-size="10.8" text-anchor="end" font-weight="normal" font-style="normal" fill="#111111" stroke="#111" stroke-width="0.22">55</text></g>
<line x1="388.50" y1="298.40" x2="393.00" y2="298.40" stroke="#676767" stroke-width="1.0"/>
<g transform="translate(384.87,302.30) scale(1.0273,1.0000)"><text x="0" y="0" font-size="10.8" text-anchor="end" font-weight="normal" font-style="normal" fill="#111111" stroke="#111" stroke-width="0.22">60</text></g>
<line x1="388.50" y1="456.16" x2="391.00" y2="456.16" stroke="#676767" stroke-width="1.0"/>
<line x1="388.50" y1="447.82" x2="391.00" y2="447.82" stroke="#676767" stroke-width="1.0"/>
<line x1="388.50" y1="439.58" x2="391.00" y2="439.58" stroke="#676767" stroke-width="1.0"/>
<line x1="388.50" y1="423.36" x2="391.00" y2="423.36" stroke="#676767" stroke-width="1.0"/>
<line x1="388.50" y1="415.39" x2="391.00" y2="415.39" stroke="#676767" stroke-width="1.0"/>
<line x1="388.50" y1="407.50" x2="391.00" y2="407.50" stroke="#676767" stroke-width="1.0"/>
<line x1="388.50" y1="399.70" x2="391.00" y2="399.70" stroke="#676767" stroke-width="1.0"/>
<line x1="388.50" y1="391.98" x2="391.00" y2="391.98" stroke="#676767" stroke-width="1.0"/>
<line x1="388.50" y1="384.34" x2="391.00" y2="384.34" stroke="#676767" stroke-width="1.0"/>
<line x1="388.50" y1="376.78" x2="391.00" y2="376.78" stroke="#676767" stroke-width="1.0"/>
<line x1="388.50" y1="369.29" x2="391.00" y2="369.29" stroke="#676767" stroke-width="1.0"/>
<line x1="388.50" y1="354.55" x2="391.00" y2="354.55" stroke="#676767" stroke-width="1.0"/>
<line x1="388.50" y1="347.29" x2="391.00" y2="347.29" stroke="#676767" stroke-width="1.0"/>
<line x1="388.50" y1="340.10" x2="391.00" y2="340.10" stroke="#676767" stroke-width="1.0"/>
<line x1="388.50" y1="332.99" x2="391.00" y2="332.99" stroke="#676767" stroke-width="1.0"/>
<line x1="388.50" y1="325.94" x2="391.00" y2="325.94" stroke="#676767" stroke-width="1.0"/>
<line x1="388.50" y1="318.95" x2="391.00" y2="318.95" stroke="#676767" stroke-width="1.0"/>
<line x1="388.50" y1="312.04" x2="391.00" y2="312.04" stroke="#676767" stroke-width="1.0"/>
<line x1="388.50" y1="305.19" x2="391.00" y2="305.19" stroke="#676767" stroke-width="1.0"/>
<line x1="388.50" y1="291.68" x2="391.00" y2="291.68" stroke="#676767" stroke-width="1.0"/>
<line x1="388.50" y1="285.01" x2="391.00" y2="285.01" stroke="#676767" stroke-width="1.0"/>
<line x1="388.50" y1="278.41" x2="391.00" y2="278.41" stroke="#676767" stroke-width="1.0"/>
<line x1="388.50" y1="271.87" x2="391.00" y2="271.87" stroke="#676767" stroke-width="1.0"/>
<line x1="388.50" y1="265.38" x2="391.00" y2="265.38" stroke="#676767" stroke-width="1.0"/>
<line x1="388.50" y1="258.95" x2="391.00" y2="258.95" stroke="#676767" stroke-width="1.0"/>
<line x1="388.50" y1="252.58" x2="391.00" y2="252.58" stroke="#676767" stroke-width="1.0"/>
<g transform="translate(565.36,271.20) scale(1.0214,1.0000)"><text x="0" y="0" font-size="12.6" text-anchor="start" font-weight="normal" font-style="normal" fill="#111111" stroke="#111" stroke-width="0.22">P</text></g>
<g transform="translate(574.12,271.00) scale(1.0892,1.0000)"><text x="0" y="0" font-size="10.5" text-anchor="start" font-weight="normal" font-style="normal" fill="#111111" stroke="#111" stroke-width="0.22">BDB-TF</text></g>
<g transform="translate(616.60,271.00) scale(1.0184,1.0000)"><text x="0" y="0" font-size="11.2" text-anchor="start" font-weight="normal" font-style="normal" fill="#111111" stroke="#111" stroke-width="0.22">:BTP-eC9</text></g>
<polyline points="424.90,264.10 446.70,285.10 477.50,320.80 524.10,369.10 545.10,390.50" fill="none" stroke="#888" stroke-width="0.9"/>
<polyline points="424.90,294.60 446.70,302.80 477.50,319.10 524.10,343.10 545.10,358.10" fill="none" stroke="#888" stroke-width="0.9"/>
<polyline points="570.00,406.50 649.60,433.00" fill="none" stroke="#888" stroke-width="0.9"/>
<polyline points="570.00,369.40 649.60,385.70" fill="none" stroke="#888" stroke-width="0.9"/>
<circle cx="424.90" cy="264.10" r="3.6" fill="#fff" stroke="#ff8000" stroke-width="1.7"/>
<circle cx="446.70" cy="285.10" r="3.6" fill="#fff" stroke="#ff8000" stroke-width="1.7"/>
<circle cx="477.50" cy="320.80" r="3.6" fill="#fff" stroke="#ff8000" stroke-width="1.7"/>
<circle cx="524.10" cy="369.10" r="3.6" fill="#fff" stroke="#ff8000" stroke-width="1.7"/>
<circle cx="545.10" cy="390.50" r="3.6" fill="#fff" stroke="#ff8000" stroke-width="1.7"/>
<circle cx="570.00" cy="406.50" r="3.6" fill="#fff" stroke="#ff8000" stroke-width="1.7"/>
<circle cx="601.10" cy="418.10" r="3.6" fill="#fff" stroke="#ff8000" stroke-width="1.7"/>
<circle cx="639.60" cy="427.40" r="3.6" fill="#fff" stroke="#ff8000" stroke-width="1.7"/>
<circle cx="649.60" cy="435.00" r="3.6" fill="#fff" stroke="#ff8000" stroke-width="1.7"/>
<circle cx="424.90" cy="294.60" r="3.6" fill="#fff" stroke="#000099" stroke-width="1.7"/>
<circle cx="446.70" cy="302.80" r="3.6" fill="#fff" stroke="#000099" stroke-width="1.7"/>
<circle cx="477.50" cy="319.10" r="3.6" fill="#fff" stroke="#000099" stroke-width="1.7"/>
<circle cx="524.10" cy="343.10" r="3.6" fill="#fff" stroke="#000099" stroke-width="1.7"/>
<circle cx="545.10" cy="358.10" r="3.6" fill="#fff" stroke="#000099" stroke-width="1.7"/>
<circle cx="570.00" cy="369.40" r="3.6" fill="#fff" stroke="#000099" stroke-width="1.7"/>
<circle cx="601.10" cy="374.00" r="3.6" fill="#fff" stroke="#000099" stroke-width="1.7"/>
<circle cx="639.60" cy="378.50" r="3.6" fill="#fff" stroke="#000099" stroke-width="1.7"/>
<circle cx="649.60" cy="390.80" r="3.6" fill="#fff" stroke="#000099" stroke-width="1.7"/>
<circle cx="409.90" cy="348.10" r="3.6" fill="#fff" stroke="#ff8000" stroke-width="1.7"/>
<circle cx="409.90" cy="367.00" r="3.6" fill="#fff" stroke="#000099" stroke-width="1.7"/>
<g transform="translate(429.54,352.80) scale(0.9211,1.0000)"><text x="0" y="0" font-size="10.5" text-anchor="start" font-weight="normal" font-style="normal" fill="#111111" stroke="#111" stroke-width="0.22"><tspan font-style="italic">λ</tspan><tspan font-size="7.6" dy="2.7">533</tspan></text></g>
<g transform="translate(429.54,371.50) scale(0.9211,1.0000)"><text x="0" y="0" font-size="10.5" text-anchor="start" font-weight="normal" font-style="normal" fill="#111111" stroke="#111" stroke-width="0.22"><tspan font-style="italic">λ</tspan><tspan font-size="7.6" dy="2.7">809</tspan></text></g>
<g transform="translate(429.59,421.20) scale(0.9787,1.0000)"><text x="0" y="0" font-size="10" text-anchor="start" font-weight="normal" font-style="normal" fill="#111111" stroke="#111" stroke-width="0.22">77K~110K</text></g>
<g transform="translate(485.61,421.20) scale(0.9712,1.0000)"><text x="0" y="0" font-size="10" text-anchor="start" font-weight="normal" font-style="normal" fill="#111111" stroke="#111" stroke-width="0.22">110K~300K</text></g>
<g transform="translate(404.40,435.00) scale(1.0188,1.0000)"><text x="0" y="0" font-size="9.5" text-anchor="start" font-weight="normal" font-style="normal" fill="#111111" stroke="#111" stroke-width="0.22"><tspan font-style="italic">λ</tspan><tspan font-size="6.9" dy="2.7">533</tspan></text></g>
<g transform="translate(404.40,449.00) scale(1.0188,1.0000)"><text x="0" y="0" font-size="9.5" text-anchor="start" font-weight="normal" font-style="normal" fill="#111111" stroke="#111" stroke-width="0.22"><tspan font-style="italic">λ</tspan><tspan font-size="6.9" dy="2.7">809</tspan></text></g>
<g transform="translate(431.61,436.20) scale(0.9676,1.0000)"><text x="0" y="0" font-size="10" text-anchor="start" font-weight="normal" font-style="normal" fill="#111111" stroke="#111" stroke-width="0.22">0.5 meV</text></g>
<g transform="translate(489.80,436.20) scale(0.9622,1.0000)"><text x="0" y="0" font-size="10" text-anchor="start" font-weight="normal" font-style="normal" fill="#111111" stroke="#111" stroke-width="0.22">1.5 meV</text></g>
<g transform="translate(431.61,450.20) scale(0.9676,1.0000)"><text x="0" y="0" font-size="10" text-anchor="start" font-weight="normal" font-style="normal" fill="#111111" stroke="#111" stroke-width="0.22">0.3 meV</text></g>
<g transform="translate(489.80,450.20) scale(0.9784,1.0000)"><text x="0" y="0" font-size="10" text-anchor="start" font-weight="normal" font-style="normal" fill="#111111" stroke="#111" stroke-width="0.22">0.8 meV</text></g>
<g transform="translate(488.04,491.10) scale(0.9589,1.0000)"><text x="0" y="0" font-size="15.8" text-anchor="start" font-weight="normal" font-style="normal" fill="#111111" stroke="#111" stroke-width="0.22">(<tspan font-style="italic">K</tspan><tspan font-size="12" dy="2.8">B</tspan><tspan font-style="italic" dy="-2.8">T</tspan>)<tspan font-size="10.5" dy="-6">-1</tspan><tspan dy="6"> (eV</tspan><tspan font-size="10.5" dy="-6">-1</tspan><tspan dy="6">)</tspan></text></g>
<g transform="translate(363.23,358.19) scale(1.1250,1.0189) rotate(-90)"><text x="0" y="0" font-size="13.7" text-anchor="middle" font-weight="normal" font-style="normal" fill="#111111" stroke="#111" stroke-width="0.22">EQE (%)</text></g></svg>
</body></html>
